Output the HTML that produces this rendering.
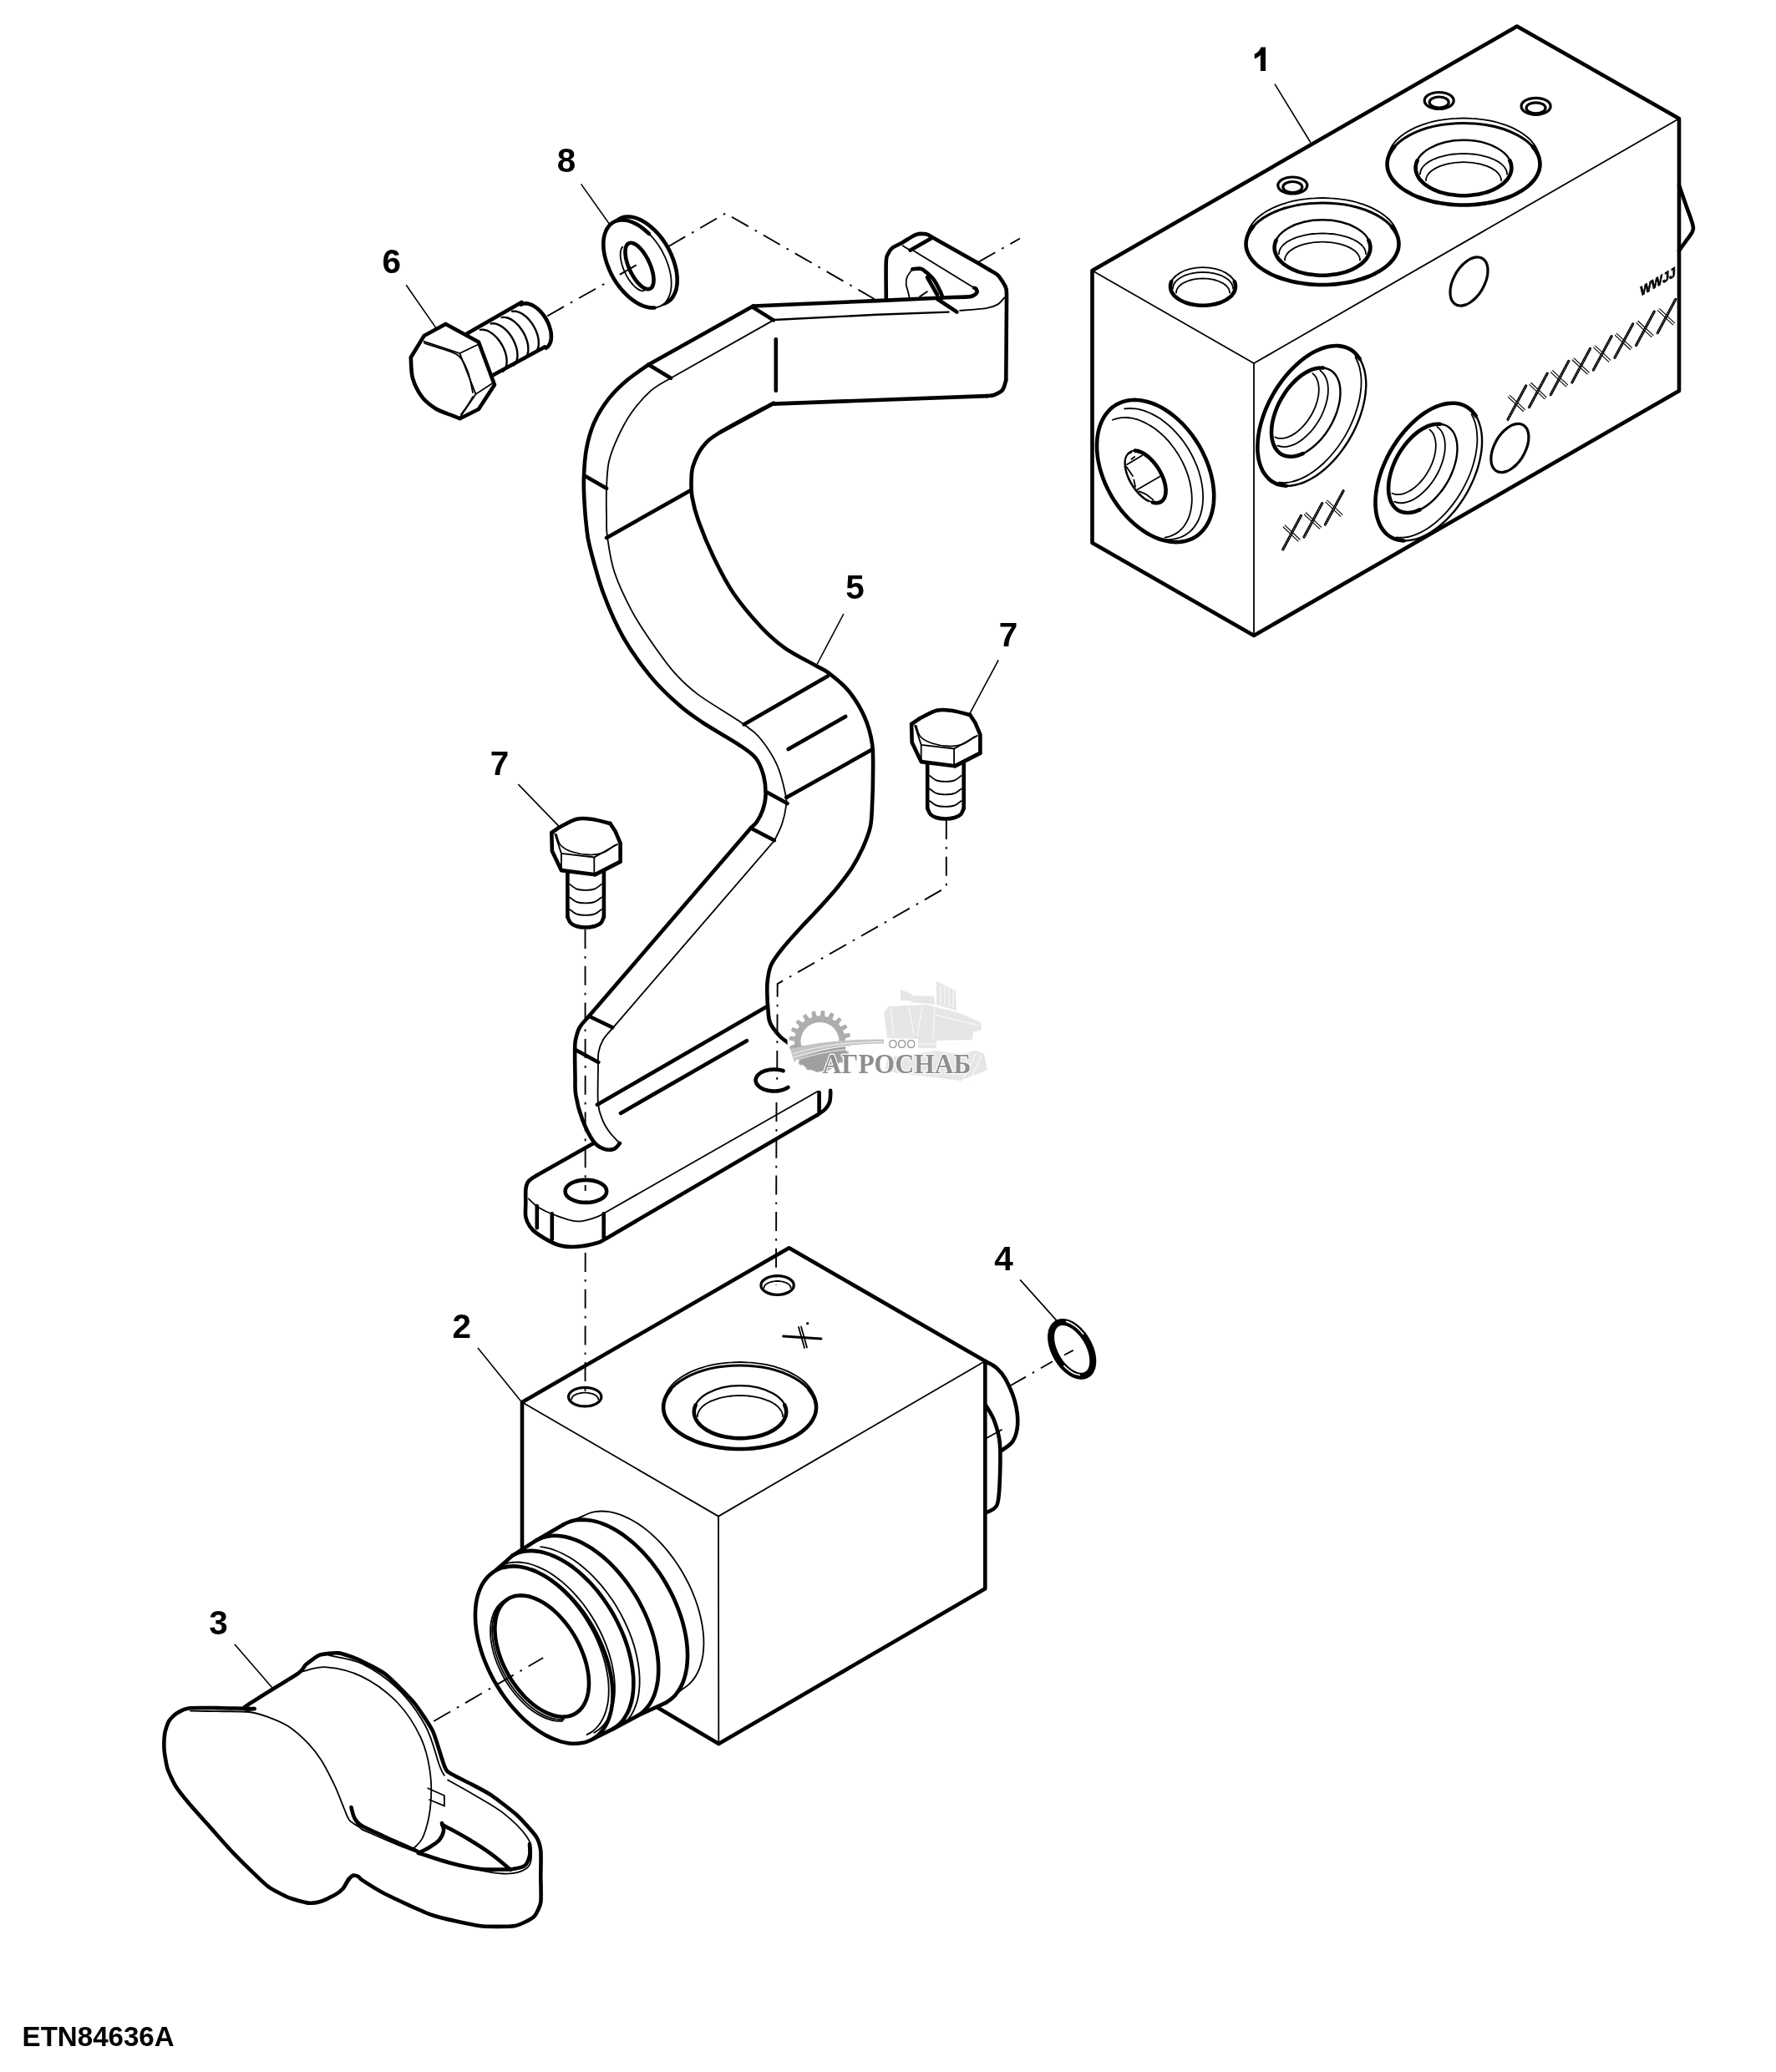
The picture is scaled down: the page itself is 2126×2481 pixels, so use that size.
<!DOCTYPE html>
<html><head><meta charset="utf-8"><title>ETN84636A</title>
<style>
html,body{margin:0;padding:0;background:#fff;}
body{width:2126px;height:2481px;overflow:hidden;}
svg{display:block;filter:grayscale(1);}
.k{fill:none;stroke:#000;stroke-width:4.6;stroke-linecap:round;stroke-linejoin:round;}
.m{fill:none;stroke:#000;stroke-width:3.2;stroke-linecap:round;stroke-linejoin:round;}
.m2{fill:none;stroke:#000;stroke-width:2.4;stroke-linecap:round;stroke-linejoin:round;}
.xs1{fill:none;stroke:#000;stroke-width:4;stroke-linecap:butt;}
.xs2{fill:none;stroke:#fff;stroke-width:1.8;stroke-linecap:butt;}
.xl{fill:none;stroke:#000;stroke-width:3.2;stroke-linecap:round;}
.xld{fill:none;stroke:#fff;stroke-width:0.9;stroke-dasharray:0.9 1.7;}
.t{fill:none;stroke:#000;stroke-width:1.8;stroke-linecap:round;}
.ld{fill:none;stroke:#000;stroke-width:1.6;}
.dd{fill:none;stroke:#000;stroke-width:1.9;stroke-dasharray:23 9 2.7 9;}
.wf{fill:#fff;stroke:none;}
.fillk{fill:#000;stroke:none;}
.or{fill:none;stroke:#000;stroke-width:8;}
.orw{fill:none;stroke:#fff;stroke-width:1.6;}
text{font-family:"Liberation Sans",sans-serif;opacity:0.999;}
.lb{font-weight:bold;font-size:40.5px;fill:#000;}
.lb2{font-weight:bold;font-size:33.5px;fill:#000;}
.xx{font-style:italic;font-size:40px;fill:#fff;stroke:#000;stroke-width:1.1;letter-spacing:-2px;}
.ww{font-weight:bold;font-size:16.5px;fill:#000;stroke:#000;stroke-width:0.8;}
</style></head><body>
<svg width="2126" height="2481" viewBox="0 0 2126 2481" xmlns="http://www.w3.org/2000/svg">
<rect width="2126" height="2481" fill="#fff"/>
<path class="k" d="M1307.5,324 L1816,31.5 L2010,142 L2010,468 L1501,761 L1307.5,650 Z" style="fill:#fff"/>
<path class="t" d="M1307.5,324 L1501,435 L2010,142"/>
<path class="t" d="M1501,435 L1501,761"/>
<path class="k" d="M2010,222 C2011.3,225.8 2015.3,237.3 2018,245 C2020.7,252.7 2024.7,262.7 2026,268 C2027.3,273.3 2027.3,273.5 2026,277 C2024.7,280.5 2020.7,285.2 2018,289 C2015.3,292.8 2011.3,298.2 2010,300"/>
<ellipse class="m" cx="1547.3" cy="222" rx="17.5" ry="10"/>
<ellipse class="m" cx="1547.3" cy="224" rx="11.5" ry="6.5"/>
<ellipse class="m" cx="1722.7" cy="120.5" rx="17.5" ry="10"/>
<ellipse class="m" cx="1722.7" cy="122.5" rx="11.5" ry="6.5"/>
<ellipse class="m" cx="1838.6" cy="127.3" rx="17.5" ry="10"/>
<ellipse class="m" cx="1838.6" cy="129.3" rx="11.5" ry="6.5"/>
<path class="t" d="M1492.5,286 C1492.6,285.1 1492.7,282.6 1493,280.9 C1493.3,279.2 1493.8,277.5 1494.5,275.8 C1495.1,274.1 1496,272.5 1496.9,270.9 C1497.9,269.2 1499,267.6 1500.3,266.1 C1501.6,264.5 1503,263 1504.6,261.5 C1506.2,260 1507.9,258.6 1509.8,257.2 C1511.6,255.8 1513.6,254.5 1515.7,253.2 C1517.9,251.9 1520.1,250.7 1522.4,249.6 C1524.8,248.4 1527.3,247.4 1529.8,246.4 C1532.4,245.4 1535,244.4 1537.8,243.6 C1540.5,242.7 1543.3,241.9 1546.2,241.2 C1549.1,240.5 1552,239.9 1555,239.4 C1558,238.9 1561.1,238.4 1564.2,238.1 C1567.3,237.7 1570.4,237.4 1573.5,237.3 C1576.7,237.1 1579.8,237 1583,237 C1586.2,237 1589.3,237.1 1592.5,237.3 C1595.6,237.4 1598.7,237.7 1601.8,238.1 C1604.9,238.4 1608,238.9 1611,239.4 C1614,239.9 1616.9,240.5 1619.8,241.2 C1622.7,241.9 1625.5,242.7 1628.2,243.6 C1631,244.4 1633.6,245.4 1636.2,246.4 C1638.7,247.4 1641.2,248.4 1643.6,249.6 C1645.9,250.7 1648.1,251.9 1650.3,253.2 C1652.4,254.5 1654.4,255.8 1656.2,257.2 C1658.1,258.6 1659.8,260 1661.4,261.5 C1663,263 1664.4,264.5 1665.7,266.1 C1667,267.6 1668.1,269.2 1669.1,270.9 C1670,272.5 1670.9,274.1 1671.5,275.8 C1672.2,277.5 1672.7,279.2 1673,280.9 C1673.3,282.6 1673.4,285.1 1673.5,286"/>
<ellipse class="m" cx="1583" cy="292" rx="91.5" ry="49"/>
<path class="k" d="M1665.9,271.3 C1666.5,272.1 1668.5,274.5 1669.5,276.1 C1670.6,277.7 1671.5,279.4 1672.2,281.1 C1672.9,282.7 1673.5,284.5 1673.8,286.2 C1674.2,287.9 1674.4,289.6 1674.5,291.3 C1674.5,293 1674.4,294.8 1674.1,296.5 C1673.8,298.2 1673.4,299.9 1672.7,301.6 C1672.1,303.3 1671.3,305 1670.3,306.6 C1669.4,308.3 1668.2,309.9 1667,311.5 C1665.7,313.1 1664.2,314.6 1662.7,316.1 C1661.1,317.6 1659.3,319.1 1657.5,320.5 C1655.6,321.9 1653.6,323.2 1651.4,324.5 C1649.3,325.8 1647,327 1644.7,328.2 C1642.3,329.4 1639.8,330.5 1637.2,331.5 C1634.6,332.5 1631.9,333.5 1629.1,334.3 C1626.3,335.2 1623.5,336 1620.5,336.7 C1617.6,337.4 1614.6,338 1611.5,338.6 C1608.5,339.1 1605.3,339.5 1602.2,339.9 C1599,340.3 1595.8,340.5 1592.6,340.7 C1589.4,340.9 1586.2,341 1583,341 C1579.8,341 1576.6,340.9 1573.4,340.7 C1570.2,340.5 1567,340.3 1563.8,339.9 C1560.7,339.5 1557.5,339.1 1554.5,338.6 C1551.4,338 1548.4,337.4 1545.5,336.7 C1542.5,336 1539.7,335.2 1536.9,334.3 C1534.1,333.5 1531.4,332.5 1528.8,331.5 C1526.2,330.5 1523.7,329.4 1521.3,328.2 C1519,327 1516.7,325.8 1514.6,324.5 C1512.4,323.2 1510.4,321.9 1508.5,320.5 C1506.7,319.1 1504.9,317.6 1503.3,316.1 C1501.8,314.6 1500.3,313.1 1499,311.5 C1497.8,309.9 1496.6,308.3 1495.7,306.6 C1494.7,305 1493.9,303.3 1493.3,301.6 C1492.6,299.9 1492.2,298.2 1491.9,296.5 C1491.6,294.8 1491.5,293 1491.5,291.3 C1491.6,289.6 1491.8,287.9 1492.2,286.2 C1492.5,284.5 1493.1,282.7 1493.8,281.1 C1494.5,279.4 1495.4,277.7 1496.5,276.1 C1497.5,274.5 1499.5,272.1 1500.1,271.3"/>
<ellipse class="m2" cx="1583" cy="296.5" rx="57.4" ry="33.2"/>
<path class="k" d="M1638.4,287.9 C1638.7,288.5 1639.4,290.2 1639.7,291.3 C1640,292.4 1640.2,293.6 1640.3,294.8 C1640.4,295.9 1640.4,297.1 1640.3,298.2 C1640.2,299.4 1640,300.6 1639.7,301.7 C1639.4,302.8 1639,304 1638.4,305.1 C1637.9,306.2 1637.3,307.3 1636.6,308.4 C1635.9,309.5 1635.1,310.5 1634.1,311.6 C1633.2,312.6 1632.2,313.6 1631.1,314.6 C1630.1,315.6 1628.9,316.5 1627.6,317.4 C1626.3,318.3 1625,319.2 1623.6,320 C1622.2,320.8 1620.7,321.6 1619.1,322.3 C1617.6,323 1615.9,323.7 1614.3,324.3 C1612.6,325 1610.8,325.6 1609.1,326.1 C1607.3,326.6 1605.4,327.1 1603.6,327.5 C1601.7,327.9 1599.8,328.3 1597.9,328.6 C1595.9,328.9 1594,329.1 1592,329.3 C1590,329.5 1588,329.6 1586,329.7 C1584,329.7 1582,329.7 1580,329.7 C1578,329.6 1576,329.5 1574,329.3 C1572,329.1 1570.1,328.9 1568.1,328.6 C1566.2,328.3 1564.3,327.9 1562.4,327.5 C1560.6,327.1 1558.7,326.6 1556.9,326.1 C1555.2,325.6 1553.4,325 1551.7,324.3 C1550.1,323.7 1548.4,323 1546.9,322.3 C1545.3,321.6 1543.8,320.8 1542.4,320 C1541,319.2 1539.7,318.3 1538.4,317.4 C1537.1,316.5 1535.9,315.6 1534.9,314.6 C1533.8,313.6 1532.8,312.6 1531.9,311.6 C1530.9,310.5 1530.1,309.5 1529.4,308.4 C1528.7,307.3 1528.1,306.2 1527.6,305.1 C1527,304 1526.6,302.8 1526.3,301.7 C1526,300.6 1525.8,299.4 1525.7,298.2 C1525.6,297.1 1525.6,295.9 1525.7,294.8 C1525.8,293.6 1526,292.4 1526.3,291.3 C1526.6,290.2 1527.3,288.5 1527.6,287.9"/>
<path class="t" d="M1531,304 C1531,303.6 1531.1,302.3 1531.3,301.4 C1531.5,300.6 1531.8,299.7 1532.1,298.9 C1532.5,298.1 1533,297.2 1533.5,296.4 C1534.1,295.6 1534.8,294.8 1535.5,294 C1536.2,293.3 1537.1,292.5 1538,291.8 C1538.9,291 1539.9,290.3 1540.9,289.6 C1542,288.9 1543.1,288.2 1544.4,287.6 C1545.6,287 1546.9,286.4 1548.2,285.8 C1549.6,285.2 1551,284.7 1552.4,284.2 C1553.9,283.7 1555.4,283.2 1557,282.8 C1558.6,282.4 1560.2,282 1561.8,281.6 C1563.5,281.3 1565.2,281 1566.9,280.7 C1568.7,280.4 1570.4,280.2 1572.2,280 C1574,279.9 1575.8,279.7 1577.6,279.6 C1579.4,279.5 1581.2,279.5 1583,279.5 C1584.8,279.5 1586.6,279.5 1588.4,279.6 C1590.2,279.7 1592,279.9 1593.8,280 C1595.6,280.2 1597.3,280.4 1599.1,280.7 C1600.8,281 1602.5,281.3 1604.2,281.6 C1605.8,282 1607.4,282.4 1609,282.8 C1610.6,283.2 1612.1,283.7 1613.6,284.2 C1615,284.7 1616.4,285.2 1617.8,285.8 C1619.1,286.4 1620.4,287 1621.6,287.6 C1622.9,288.2 1624,288.9 1625.1,289.6 C1626.1,290.3 1627.1,291 1628,291.8 C1628.9,292.5 1629.8,293.3 1630.5,294 C1631.2,294.8 1631.9,295.6 1632.5,296.4 C1633,297.2 1633.5,298.1 1633.9,298.9 C1634.2,299.7 1634.5,300.6 1634.7,301.4 C1634.9,302.3 1635,303.6 1635,304"/>
<path class="t" d="M1538,311.5 C1538,311.1 1538.1,310 1538.2,309.2 C1538.4,308.5 1538.7,307.7 1539,307 C1539.3,306.2 1539.7,305.5 1540.2,304.8 C1540.7,304 1541.3,303.3 1541.9,302.6 C1542.5,301.9 1543.2,301.3 1544,300.6 C1544.8,299.9 1545.7,299.3 1546.6,298.7 C1547.5,298.1 1548.5,297.5 1549.6,296.9 C1550.6,296.3 1551.7,295.8 1552.9,295.3 C1554.1,294.8 1555.3,294.3 1556.5,293.9 C1557.8,293.4 1559.1,293 1560.5,292.6 C1561.9,292.2 1563.3,291.9 1564.7,291.6 C1566.1,291.3 1567.6,291 1569.1,290.8 C1570.6,290.5 1572.1,290.3 1573.6,290.2 C1575.2,290 1576.7,289.9 1578.3,289.8 C1579.9,289.7 1581.4,289.7 1583,289.7 C1584.6,289.7 1586.1,289.7 1587.7,289.8 C1589.3,289.9 1590.8,290 1592.4,290.2 C1593.9,290.3 1595.4,290.5 1596.9,290.8 C1598.4,291 1599.9,291.3 1601.3,291.6 C1602.7,291.9 1604.1,292.2 1605.5,292.6 C1606.9,293 1608.2,293.4 1609.5,293.9 C1610.7,294.3 1611.9,294.8 1613.1,295.3 C1614.3,295.8 1615.4,296.3 1616.4,296.9 C1617.5,297.5 1618.5,298.1 1619.4,298.7 C1620.3,299.3 1621.2,299.9 1622,300.6 C1622.8,301.3 1623.5,301.9 1624.1,302.6 C1624.7,303.3 1625.3,304 1625.8,304.8 C1626.3,305.5 1626.7,306.2 1627,307 C1627.3,307.7 1627.6,308.5 1627.8,309.2 C1627.9,310 1628,311.1 1628,311.5"/>
<path class="t" d="M1661.5,190.5 C1661.6,189.6 1661.7,187.1 1662,185.4 C1662.3,183.7 1662.8,182 1663.5,180.3 C1664.1,178.6 1665,177 1665.9,175.4 C1666.9,173.7 1668,172.1 1669.3,170.6 C1670.6,169 1672,167.5 1673.6,166 C1675.2,164.5 1676.9,163.1 1678.8,161.7 C1680.6,160.3 1682.6,159 1684.7,157.7 C1686.9,156.4 1689.1,155.2 1691.4,154.1 C1693.8,152.9 1696.3,151.9 1698.8,150.9 C1701.4,149.9 1704,148.9 1706.8,148.1 C1709.5,147.2 1712.3,146.4 1715.2,145.7 C1718.1,145 1721,144.4 1724,143.9 C1727,143.4 1730.1,142.9 1733.2,142.6 C1736.3,142.2 1739.4,141.9 1742.5,141.8 C1745.7,141.6 1748.8,141.5 1752,141.5 C1755.2,141.5 1758.3,141.6 1761.5,141.8 C1764.6,141.9 1767.7,142.2 1770.8,142.6 C1773.9,142.9 1777,143.4 1780,143.9 C1783,144.4 1785.9,145 1788.8,145.7 C1791.7,146.4 1794.5,147.2 1797.2,148.1 C1800,148.9 1802.6,149.9 1805.2,150.9 C1807.7,151.9 1810.2,152.9 1812.6,154.1 C1814.9,155.2 1817.1,156.4 1819.3,157.7 C1821.4,159 1823.4,160.3 1825.2,161.7 C1827.1,163.1 1828.8,164.5 1830.4,166 C1832,167.5 1833.4,169 1834.7,170.6 C1836,172.1 1837.1,173.7 1838.1,175.4 C1839,177 1839.9,178.6 1840.5,180.3 C1841.2,182 1841.7,183.7 1842,185.4 C1842.3,187.1 1842.4,189.6 1842.5,190.5"/>
<ellipse class="m" cx="1752" cy="196.5" rx="91.5" ry="49"/>
<path class="k" d="M1834.9,175.8 C1835.5,176.6 1837.5,179 1838.5,180.6 C1839.6,182.2 1840.5,183.9 1841.2,185.6 C1841.9,187.2 1842.5,189 1842.8,190.7 C1843.2,192.4 1843.4,194.1 1843.5,195.8 C1843.5,197.5 1843.4,199.3 1843.1,201 C1842.8,202.7 1842.4,204.4 1841.7,206.1 C1841.1,207.8 1840.3,209.5 1839.3,211.1 C1838.4,212.8 1837.2,214.4 1836,216 C1834.7,217.6 1833.2,219.1 1831.7,220.6 C1830.1,222.1 1828.3,223.6 1826.5,225 C1824.6,226.4 1822.6,227.7 1820.4,229 C1818.3,230.3 1816,231.5 1813.7,232.7 C1811.3,233.9 1808.8,235 1806.2,236 C1803.6,237 1800.9,238 1798.1,238.8 C1795.3,239.7 1792.5,240.5 1789.5,241.2 C1786.6,241.9 1783.6,242.5 1780.5,243.1 C1777.5,243.6 1774.3,244 1771.2,244.4 C1768,244.8 1764.8,245 1761.6,245.2 C1758.4,245.4 1755.2,245.5 1752,245.5 C1748.8,245.5 1745.6,245.4 1742.4,245.2 C1739.2,245 1736,244.8 1732.8,244.4 C1729.7,244 1726.5,243.6 1723.5,243.1 C1720.4,242.5 1717.4,241.9 1714.5,241.2 C1711.5,240.5 1708.7,239.7 1705.9,238.8 C1703.1,238 1700.4,237 1697.8,236 C1695.2,235 1692.7,233.9 1690.3,232.7 C1688,231.5 1685.7,230.3 1683.6,229 C1681.4,227.7 1679.4,226.4 1677.5,225 C1675.7,223.6 1673.9,222.1 1672.3,220.6 C1670.8,219.1 1669.3,217.6 1668,216 C1666.8,214.4 1665.6,212.8 1664.7,211.1 C1663.7,209.5 1662.9,207.8 1662.3,206.1 C1661.6,204.4 1661.2,202.7 1660.9,201 C1660.6,199.3 1660.5,197.5 1660.5,195.8 C1660.6,194.1 1660.8,192.4 1661.2,190.7 C1661.5,189 1662.1,187.2 1662.8,185.6 C1663.5,183.9 1664.4,182.2 1665.5,180.6 C1666.5,179 1668.5,176.6 1669.1,175.8"/>
<ellipse class="m2" cx="1752" cy="201" rx="57.4" ry="33.2"/>
<path class="k" d="M1807.4,192.4 C1807.7,193 1808.4,194.7 1808.7,195.8 C1809,196.9 1809.2,198.1 1809.3,199.3 C1809.4,200.4 1809.4,201.6 1809.3,202.7 C1809.2,203.9 1809,205.1 1808.7,206.2 C1808.4,207.3 1808,208.5 1807.4,209.6 C1806.9,210.7 1806.3,211.8 1805.6,212.9 C1804.9,214 1804.1,215 1803.1,216.1 C1802.2,217.1 1801.2,218.1 1800.1,219.1 C1799.1,220.1 1797.9,221 1796.6,221.9 C1795.3,222.8 1794,223.7 1792.6,224.5 C1791.2,225.3 1789.7,226.1 1788.1,226.8 C1786.6,227.5 1784.9,228.2 1783.3,228.8 C1781.6,229.5 1779.8,230.1 1778.1,230.6 C1776.3,231.1 1774.4,231.6 1772.6,232 C1770.7,232.4 1768.8,232.8 1766.9,233.1 C1764.9,233.4 1763,233.6 1761,233.8 C1759,234 1757,234.1 1755,234.2 C1753,234.2 1751,234.2 1749,234.2 C1747,234.1 1745,234 1743,233.8 C1741,233.6 1739.1,233.4 1737.1,233.1 C1735.2,232.8 1733.3,232.4 1731.4,232 C1729.6,231.6 1727.7,231.1 1725.9,230.6 C1724.2,230.1 1722.4,229.5 1720.7,228.8 C1719.1,228.2 1717.4,227.5 1715.9,226.8 C1714.3,226.1 1712.8,225.3 1711.4,224.5 C1710,223.7 1708.7,222.8 1707.4,221.9 C1706.1,221 1704.9,220.1 1703.9,219.1 C1702.8,218.1 1701.8,217.1 1700.9,216.1 C1699.9,215 1699.1,214 1698.4,212.9 C1697.7,211.8 1697.1,210.7 1696.6,209.6 C1696,208.5 1695.6,207.3 1695.3,206.2 C1695,205.1 1694.8,203.9 1694.7,202.7 C1694.6,201.6 1694.6,200.4 1694.7,199.3 C1694.8,198.1 1695,196.9 1695.3,195.8 C1695.6,194.7 1696.3,193 1696.6,192.4"/>
<path class="t" d="M1700,208.5 C1700,208.1 1700.1,206.8 1700.3,205.9 C1700.5,205.1 1700.8,204.2 1701.1,203.4 C1701.5,202.6 1702,201.7 1702.5,200.9 C1703.1,200.1 1703.8,199.3 1704.5,198.5 C1705.2,197.8 1706.1,197 1707,196.2 C1707.9,195.5 1708.9,194.8 1709.9,194.1 C1711,193.4 1712.1,192.7 1713.4,192.1 C1714.6,191.5 1715.9,190.9 1717.2,190.3 C1718.6,189.7 1720,189.2 1721.4,188.7 C1722.9,188.2 1724.4,187.7 1726,187.3 C1727.6,186.9 1729.2,186.5 1730.8,186.1 C1732.5,185.8 1734.2,185.5 1735.9,185.2 C1737.7,184.9 1739.4,184.7 1741.2,184.5 C1743,184.4 1744.8,184.2 1746.6,184.1 C1748.4,184 1750.2,184 1752,184 C1753.8,184 1755.6,184 1757.4,184.1 C1759.2,184.2 1761,184.4 1762.8,184.5 C1764.6,184.7 1766.3,184.9 1768.1,185.2 C1769.8,185.5 1771.5,185.8 1773.2,186.1 C1774.8,186.5 1776.4,186.9 1778,187.3 C1779.6,187.7 1781.1,188.2 1782.6,188.7 C1784,189.2 1785.4,189.7 1786.8,190.3 C1788.1,190.9 1789.4,191.5 1790.6,192.1 C1791.9,192.7 1793,193.4 1794.1,194.1 C1795.1,194.8 1796.1,195.5 1797,196.2 C1797.9,197 1798.8,197.8 1799.5,198.5 C1800.2,199.3 1800.9,200.1 1801.5,200.9 C1802,201.7 1802.5,202.6 1802.9,203.4 C1803.2,204.2 1803.5,205.1 1803.7,205.9 C1803.9,206.8 1804,208.1 1804,208.5"/>
<path class="t" d="M1707,216 C1707,215.6 1707.1,214.5 1707.2,213.7 C1707.4,213 1707.7,212.2 1708,211.5 C1708.3,210.7 1708.7,210 1709.2,209.3 C1709.7,208.5 1710.3,207.8 1710.9,207.1 C1711.5,206.4 1712.2,205.8 1713,205.1 C1713.8,204.4 1714.7,203.8 1715.6,203.2 C1716.5,202.6 1717.5,202 1718.6,201.4 C1719.6,200.8 1720.7,200.3 1721.9,199.8 C1723.1,199.3 1724.3,198.8 1725.5,198.4 C1726.8,197.9 1728.1,197.5 1729.5,197.1 C1730.9,196.7 1732.3,196.4 1733.7,196.1 C1735.1,195.8 1736.6,195.5 1738.1,195.3 C1739.6,195 1741.1,194.8 1742.6,194.7 C1744.2,194.5 1745.7,194.4 1747.3,194.3 C1748.9,194.2 1750.4,194.2 1752,194.2 C1753.6,194.2 1755.1,194.2 1756.7,194.3 C1758.3,194.4 1759.8,194.5 1761.4,194.7 C1762.9,194.8 1764.4,195 1765.9,195.3 C1767.4,195.5 1768.9,195.8 1770.3,196.1 C1771.7,196.4 1773.1,196.7 1774.5,197.1 C1775.9,197.5 1777.2,197.9 1778.5,198.4 C1779.7,198.8 1780.9,199.3 1782.1,199.8 C1783.3,200.3 1784.4,200.8 1785.4,201.4 C1786.5,202 1787.5,202.6 1788.4,203.2 C1789.3,203.8 1790.2,204.4 1791,205.1 C1791.8,205.8 1792.5,206.4 1793.1,207.1 C1793.7,207.8 1794.3,208.5 1794.8,209.3 C1795.3,210 1795.7,210.7 1796,211.5 C1796.3,212.2 1796.6,213 1796.8,213.7 C1796.9,214.5 1797,215.6 1797,216"/>
<ellipse class="t" cx="1440" cy="343" rx="39" ry="22.8"/>
<path class="k" d="M1477.7,337.1 C1477.8,337.5 1478.3,338.6 1478.5,339.4 C1478.7,340.2 1478.9,341 1478.9,341.8 C1479,342.6 1479,343.4 1478.9,344.2 C1478.9,345 1478.7,345.8 1478.5,346.6 C1478.3,347.4 1478,348.1 1477.7,348.9 C1477.3,349.7 1476.9,350.4 1476.4,351.2 C1475.9,351.9 1475.4,352.6 1474.7,353.4 C1474.1,354.1 1473.4,354.8 1472.7,355.4 C1472,356.1 1471.2,356.7 1470.3,357.3 C1469.5,358 1468.5,358.6 1467.6,359.1 C1466.6,359.7 1465.6,360.2 1464.5,360.7 C1463.5,361.2 1462.4,361.7 1461.2,362.1 C1460.1,362.6 1458.9,363 1457.7,363.3 C1456.5,363.7 1455.2,364 1454,364.3 C1452.7,364.6 1451.4,364.8 1450.1,365 C1448.8,365.2 1447.4,365.4 1446.1,365.5 C1444.8,365.6 1443.4,365.7 1442,365.8 C1440.7,365.8 1439.3,365.8 1438,365.8 C1436.6,365.7 1435.2,365.6 1433.9,365.5 C1432.6,365.4 1431.2,365.2 1429.9,365 C1428.6,364.8 1427.3,364.6 1426,364.3 C1424.8,364 1423.5,363.7 1422.3,363.3 C1421.1,363 1419.9,362.6 1418.8,362.1 C1417.6,361.7 1416.5,361.2 1415.5,360.7 C1414.4,360.2 1413.4,359.7 1412.4,359.1 C1411.5,358.6 1410.5,358 1409.7,357.3 C1408.8,356.7 1408,356.1 1407.3,355.4 C1406.6,354.8 1405.9,354.1 1405.3,353.4 C1404.6,352.6 1404.1,351.9 1403.6,351.2 C1403.1,350.4 1402.7,349.7 1402.3,348.9 C1402,348.1 1401.7,347.4 1401.5,346.6 C1401.3,345.8 1401.1,345 1401.1,344.2 C1401,343.4 1401,342.6 1401.1,341.8 C1401.1,341 1401.3,340.2 1401.5,339.4 C1401.7,338.6 1402.2,337.5 1402.3,337.1"/>
<path class="t" d="M1404,345.5 C1404,345.2 1404.1,344.1 1404.2,343.5 C1404.3,342.8 1404.5,342.1 1404.8,341.4 C1405,340.8 1405.4,340.1 1405.8,339.5 C1406.1,338.8 1406.6,338.2 1407.1,337.6 C1407.6,336.9 1408.2,336.3 1408.8,335.8 C1409.5,335.2 1410.1,334.6 1410.9,334 C1411.6,333.5 1412.4,333 1413.2,332.5 C1414.1,331.9 1415,331.5 1415.9,331 C1416.8,330.6 1417.8,330.1 1418.8,329.7 C1419.9,329.3 1420.9,329 1422,328.6 C1423.1,328.3 1424.2,328 1425.4,327.7 C1426.5,327.4 1427.7,327.2 1428.9,327 C1430.1,326.7 1431.3,326.6 1432.5,326.4 C1433.7,326.3 1435,326.2 1436.2,326.1 C1437.5,326 1438.7,326 1440,326 C1441.3,326 1442.5,326 1443.8,326.1 C1445,326.2 1446.3,326.3 1447.5,326.4 C1448.7,326.6 1449.9,326.7 1451.1,327 C1452.3,327.2 1453.5,327.4 1454.6,327.7 C1455.8,328 1456.9,328.3 1458,328.6 C1459.1,329 1460.1,329.3 1461.2,329.7 C1462.2,330.1 1463.2,330.6 1464.1,331 C1465,331.5 1465.9,331.9 1466.8,332.5 C1467.6,333 1468.4,333.5 1469.1,334 C1469.9,334.6 1470.5,335.2 1471.2,335.8 C1471.8,336.3 1472.4,336.9 1472.9,337.6 C1473.4,338.2 1473.9,338.8 1474.2,339.5 C1474.6,340.1 1475,340.8 1475.2,341.4 C1475.5,342.1 1475.7,342.8 1475.8,343.5 C1475.9,344.1 1476,345.2 1476,345.5"/>
<path class="t" d="M1408,350.5 C1408,350.2 1408.1,349.3 1408.2,348.7 C1408.3,348.1 1408.5,347.5 1408.7,347 C1408.9,346.4 1409.2,345.8 1409.6,345.2 C1409.9,344.7 1410.3,344.1 1410.8,343.6 C1411.2,343 1411.7,342.5 1412.3,342 C1412.8,341.5 1413.5,341 1414.1,340.5 C1414.8,340 1415.5,339.6 1416.2,339.1 C1417,338.7 1417.8,338.3 1418.6,337.9 C1419.4,337.5 1420.3,337.1 1421.2,336.7 C1422.1,336.4 1423,336.1 1424,335.8 C1425,335.5 1426,335.2 1427,335 C1428,334.7 1429.1,334.5 1430.1,334.3 C1431.2,334.1 1432.3,334 1433.3,333.9 C1434.4,333.7 1435.5,333.7 1436.7,333.6 C1437.8,333.5 1438.9,333.5 1440,333.5 C1441.1,333.5 1442.2,333.5 1443.3,333.6 C1444.5,333.7 1445.6,333.7 1446.7,333.9 C1447.7,334 1448.8,334.1 1449.9,334.3 C1450.9,334.5 1452,334.7 1453,335 C1454,335.2 1455,335.5 1456,335.8 C1457,336.1 1457.9,336.4 1458.8,336.7 C1459.7,337.1 1460.6,337.5 1461.4,337.9 C1462.2,338.3 1463,338.7 1463.8,339.1 C1464.5,339.6 1465.2,340 1465.9,340.5 C1466.5,341 1467.2,341.5 1467.7,342 C1468.3,342.5 1468.8,343 1469.2,343.6 C1469.7,344.1 1470.1,344.7 1470.4,345.2 C1470.8,345.8 1471.1,346.4 1471.3,347 C1471.5,347.5 1471.7,348.1 1471.8,348.7 C1471.9,349.3 1472,350.2 1472,350.5"/>
<path class="k" d="M1430,643.4 C1428.1,644.5 1426.2,645.4 1424.3,646.2 C1422.3,647 1420.2,647.6 1418.1,648.1 C1416,648.5 1413.8,648.9 1411.6,649 C1409.3,649.2 1407,649.2 1404.7,649 C1402.4,648.9 1400,648.6 1397.6,648.1 C1395.2,647.7 1392.8,647.1 1390.4,646.3 C1388,645.6 1385.5,644.6 1383.1,643.6 C1380.6,642.5 1378.2,641.3 1375.7,640 C1373.3,638.6 1370.9,637.2 1368.5,635.5 C1366.1,633.9 1363.7,632.2 1361.4,630.3 C1359.1,628.5 1356.8,626.5 1354.6,624.4 C1352.3,622.3 1350.1,620.1 1348,617.8 C1345.9,615.5 1343.9,613.1 1341.9,610.6 C1339.9,608.1 1338,605.5 1336.2,602.9 C1334.4,600.2 1332.6,597.5 1331,594.8 C1329.4,592 1327.8,589.1 1326.4,586.3 C1325,583.4 1323.6,580.5 1322.4,577.6 C1321.2,574.6 1320.1,571.7 1319.1,568.7 C1318.1,565.7 1317.2,562.8 1316.4,559.8 C1315.7,556.8 1315.1,553.9 1314.5,550.9 C1314,548 1313.7,545.1 1313.4,542.2 C1313.1,539.3 1313,536.5 1313,533.7 C1313,531 1313.2,528.2 1313.4,525.6 C1313.7,522.9 1314.1,520.3 1314.6,517.8 C1315.1,515.3 1315.7,512.9 1316.5,510.6 C1317.2,508.3 1318.1,506.1 1319.1,504 C1320.1,501.9 1321.2,499.9 1322.4,498 C1323.7,496.1 1325,494.4 1326.4,492.7 C1327.9,491.1 1329.4,489.6 1331,488.2 C1332.7,486.9 1334.4,485.7 1336.2,484.6 C1338.1,483.5 1340,482.6 1341.9,481.8 C1343.9,481 1346,480.4 1348.1,479.9 C1350.2,479.5 1352.4,479.1 1354.6,479 C1356.9,478.8 1359.2,478.8 1361.5,479 C1363.8,479.1 1366.2,479.4 1368.6,479.9 C1371,480.3 1373.4,480.9 1375.8,481.7 C1378.2,482.4 1380.7,483.4 1383.1,484.4 C1385.6,485.5 1388,486.7 1390.5,488 C1392.9,489.4 1395.3,490.8 1397.7,492.5 C1400.1,494.1 1402.5,495.8 1404.8,497.7 C1407.1,499.5 1409.4,501.5 1411.6,503.6 C1413.9,505.7 1416.1,507.9 1418.2,510.2 C1420.3,512.5 1422.3,514.9 1424.3,517.4 C1426.3,519.9 1428.2,522.5 1430,525.1 C1431.8,527.8 1433.6,530.5 1435.2,533.2 C1436.8,536 1438.4,538.9 1439.8,541.7 C1441.2,544.6 1442.6,547.5 1443.8,550.4 C1445,553.4 1446.1,556.3 1447.1,559.3 C1448.1,562.3 1449,565.2 1449.8,568.2 C1450.5,571.2 1451.1,574.1 1451.7,577.1 C1452.2,580 1452.5,582.9 1452.8,585.8 C1453.1,588.7 1453.2,591.5 1453.2,594.3 C1453.2,597 1453,599.8 1452.8,602.4 C1452.5,605.1 1452.1,607.7 1451.6,610.2 C1451.1,612.7 1450.5,615.1 1449.7,617.4 C1449,619.7 1448.1,621.9 1447.1,624 C1446.1,626.1 1445,628.1 1443.8,630 C1442.5,631.9 1441.2,633.6 1439.8,635.3 C1438.3,636.9 1436.8,638.4 1435.2,639.8 C1433.5,641.1 1431.8,642.3 1430,643.4 Z" style="fill:#fff"/>
<path class="t" d="M1346.2,489.5 C1347.2,489.4 1350.3,489 1352.4,489 C1354.6,489 1356.8,489.1 1359,489.4 C1361.2,489.7 1363.4,490.1 1365.6,490.7 C1367.9,491.3 1370.2,492 1372.4,492.9 C1374.7,493.7 1377,494.7 1379.3,495.9 C1381.5,497 1383.8,498.3 1386.1,499.6 C1388.3,501 1390.5,502.6 1392.7,504.2 C1394.9,505.8 1397.1,507.6 1399.2,509.4 C1401.3,511.3 1403.4,513.3 1405.4,515.3 C1407.4,517.4 1409.4,519.6 1411.3,521.8 C1413.2,524.1 1415,526.4 1416.8,528.8 C1418.5,531.2 1420.2,533.7 1421.8,536.3 C1423.4,538.8 1424.9,541.4 1426.3,544 C1427.7,546.7 1429,549.4 1430.2,552.1 C1431.4,554.8 1432.6,557.5 1433.6,560.3 C1434.6,563 1435.5,565.8 1436.2,568.6 C1437,571.3 1437.7,574.1 1438.2,576.9 C1438.8,579.6 1439.2,582.3 1439.5,585 C1439.8,587.7 1440,590.4 1440.1,593 C1440.2,595.6 1440.1,598.2 1439.9,600.7 C1439.8,603.2 1439.5,605.7 1439.1,608 C1438.7,610.4 1438.1,612.7 1437.5,614.9 C1436.9,617.1 1436.1,619.2 1435.2,621.3 C1434.4,623.3 1433.4,625.2 1432.3,627 C1431.2,628.8 1430,630.5 1428.7,632.1 C1427.4,633.6 1426,635.1 1424.6,636.4 C1423.1,637.7 1421.5,638.9 1419.8,640 C1418.2,641.1 1416.4,642 1414.6,642.8 C1412.8,643.6 1410.9,644.2 1409,644.7 C1407,645.2 1405,645.6 1403,645.8 C1400.9,646 1398.8,646.1 1396.6,646 C1394.5,645.9 1392.3,645.7 1390.1,645.3 C1387.8,644.9 1384.4,644 1383.3,643.7"/>
<path class="t" d="M1331.8,502.8 C1332.7,502.5 1335.3,501.5 1337.1,501.1 C1338.9,500.6 1340.8,500.3 1342.7,500.1 C1344.6,500 1346.6,499.9 1348.6,500 C1350.6,500.1 1352.7,500.4 1354.7,500.7 C1356.8,501.1 1358.9,501.6 1361,502.2 C1363.1,502.9 1365.2,503.7 1367.3,504.6 C1369.4,505.5 1371.5,506.5 1373.6,507.7 C1375.7,508.8 1377.8,510.1 1379.9,511.5 C1382,512.9 1384,514.4 1386,516 C1388,517.6 1390,519.3 1391.9,521.2 C1393.9,523 1395.7,524.9 1397.6,526.9 C1399.4,528.9 1401.1,531 1402.8,533.2 C1404.5,535.3 1406.2,537.6 1407.7,539.9 C1409.3,542.2 1410.8,544.5 1412.1,546.9 C1413.5,549.3 1414.8,551.8 1416.1,554.3 C1417.3,556.8 1418.4,559.3 1419.4,561.8 C1420.4,564.4 1421.4,566.9 1422.2,569.5 C1423,572.1 1423.7,574.6 1424.3,577.2 C1424.9,579.8 1425.4,582.3 1425.8,584.8 C1426.2,587.4 1426.5,589.9 1426.6,592.3 C1426.8,594.8 1426.8,597.2 1426.8,599.6 C1426.7,602 1426.5,604.3 1426.2,606.6 C1425.9,608.8 1425.5,611 1425,613.1 C1424.5,615.2 1423.9,617.2 1423.2,619.2 C1422.4,621.1 1421.6,623 1420.7,624.7 C1419.7,626.5 1418.7,628.1 1417.6,629.7 C1416.4,631.2 1415.2,632.6 1413.9,633.9 C1412.6,635.3 1411.2,636.5 1409.7,637.5 C1408.2,638.6 1406.6,639.5 1405,640.3 C1403.4,641.2 1401.6,641.8 1399.9,642.4 C1398.1,642.9 1395.3,643.4 1394.4,643.6"/>
<path class="k" d="M1358.8,539.6 C1359.2,539.6 1360.3,539.7 1361.1,539.9 C1361.9,540 1362.7,540.2 1363.5,540.5 C1364.4,540.8 1365.2,541.1 1366.1,541.5 C1366.9,541.9 1367.8,542.3 1368.6,542.8 C1369.5,543.3 1370.4,543.9 1371.2,544.5 C1372.1,545.1 1373,545.7 1373.8,546.4 C1374.7,547.1 1375.6,547.9 1376.4,548.6 C1377.2,549.4 1378.1,550.3 1378.9,551.1 C1379.7,552 1380.5,552.9 1381.3,553.8 C1382.1,554.8 1382.9,555.7 1383.6,556.7 C1384.4,557.7 1385.1,558.7 1385.8,559.8 C1386.5,560.8 1387.2,561.9 1387.8,563 C1388.4,564.1 1389,565.2 1389.6,566.3 C1390.2,567.4 1390.7,568.5 1391.2,569.6 C1391.7,570.7 1392.2,571.8 1392.6,572.9 C1393,574.1 1393.4,575.2 1393.7,576.3 C1394,577.4 1394.3,578.5 1394.6,579.5 C1394.8,580.6 1395,581.7 1395.2,582.7 C1395.3,583.7 1395.4,584.7 1395.5,585.7 C1395.6,586.7 1395.6,587.7 1395.5,588.6 C1395.5,589.5 1395.4,590.4 1395.3,591.2 C1395.2,592.1 1395,592.9 1394.8,593.7 C1394.6,594.4 1394.3,595.2 1394,595.8 C1393.7,596.5 1393.4,597.1 1393,597.7 C1392.6,598.3 1392.2,598.8 1391.7,599.3 C1391.2,599.8 1390.7,600.2 1390.2,600.5 C1389.6,600.9 1389.1,601.2 1388.4,601.5 C1387.8,601.7 1387.2,601.9 1386.5,602 C1385.8,602.1 1385.1,602.2 1384.4,602.2 C1383.7,602.2 1382.9,602.2 1382.1,602.1 C1381.4,602 1380.2,601.6 1379.8,601.6"/>
<path class="t" d="M1381.7,602 C1381.3,601.9 1380.2,601.7 1379.4,601.4 C1378.6,601.2 1377.7,600.9 1376.9,600.5 C1376.1,600.2 1375.2,599.8 1374.4,599.3 C1373.6,598.9 1372.7,598.4 1371.9,597.8 C1371,597.2 1370.2,596.6 1369.3,596 C1368.5,595.3 1367.6,594.6 1366.8,593.9 C1366,593.1 1365.1,592.3 1364.3,591.5 C1363.5,590.7 1362.7,589.8 1361.9,589 C1361.1,588.1 1360.4,587.1 1359.6,586.2 C1358.9,585.2 1358.1,584.2 1357.4,583.2 C1356.7,582.2 1356.1,581.2 1355.4,580.2 C1354.8,579.1 1354.1,578.1 1353.6,577 C1353,575.9 1352.4,574.8 1351.9,573.7 C1351.4,572.6 1350.9,571.6 1350.5,570.5 C1350,569.4 1349.6,568.3 1349.2,567.2 C1348.9,566.1 1348.5,565 1348.3,564 C1348,562.9 1347.7,561.8 1347.5,560.8 C1347.3,559.8 1347.2,558.8 1347.1,557.8 C1346.9,556.8 1346.9,555.8 1346.9,554.9 C1346.8,553.9 1346.9,553 1346.9,552.1 C1347,551.3 1347.1,550.4 1347.2,549.6 C1347.4,548.8 1347.6,548.1 1347.8,547.3 C1348.1,546.6 1348.4,545.9 1348.7,545.3 C1349,544.7 1349.4,544.1 1349.8,543.6 C1350.2,543 1350.6,542.5 1351.1,542.1 C1351.6,541.7 1352.1,541.3 1352.7,541 C1353.2,540.7 1353.8,540.4 1354.4,540.2 C1355,540 1355.7,539.8 1356.4,539.7 C1357,539.6 1357.7,539.6 1358.5,539.6 C1359.2,539.6 1360.3,539.8 1360.7,539.8"/>
<path class="t" d="M1374.6,600.3 C1374.2,600.1 1373,599.5 1372.2,599 C1371.3,598.5 1370.5,597.9 1369.7,597.3 C1368.9,596.7 1368,596.1 1367.2,595.4 C1366.4,594.7 1365.6,594 1364.8,593.2 C1364,592.4 1363.2,591.6 1362.4,590.8 C1361.6,589.9 1360.9,589 1360.1,588.1 C1359.4,587.2 1358.6,586.3 1357.9,585.3 C1357.2,584.4 1356.5,583.4 1355.9,582.4 C1355.2,581.4 1354.6,580.3 1354,579.3 C1353.4,578.3 1352.8,577.2 1352.2,576.1 C1351.7,575.1 1351.2,574 1350.7,573 C1350.2,571.9 1349.8,570.8 1349.4,569.7 C1349,568.7 1348.6,567.6 1348.3,566.6 C1348,565.5 1347.7,564.5 1347.4,563.4 C1347.2,562.4 1347,561.4 1346.8,560.4 C1346.7,559.4 1346.5,558.5 1346.5,557.5 C1346.4,556.6 1346.4,555.7 1346.4,554.8 C1346.4,553.9 1346.4,553 1346.5,552.2 C1346.6,551.4 1346.8,550.6 1346.9,549.9 C1347.1,549.2 1347.4,548.4 1347.6,547.8 C1347.9,547.1 1348.2,546.5 1348.5,546 C1348.9,545.4 1349.3,544.9 1349.7,544.4 C1350.1,544 1350.6,543.5 1351.1,543.2 C1351.6,542.8 1352.1,542.5 1352.6,542.3 C1353.2,542 1354.1,541.8 1354.4,541.7"/>
<path class="t" d="M1349,556.2 L1367.4,545.2"/>
<path class="t" d="M1361,586.5 L1389.4,570"/>
<path class="t" d="M1348.5,559 L1356,570"/>
<path class="t" d="M1357.3,574.6 L1359.1,582.8"/>
<path class="t" d="M1354.5,549.8 L1358.2,547"/>
<path class="t" d="M1363.7,588.3 C1365.1,588.9 1369.2,590.3 1372,592 C1374.8,593.7 1378.8,597.3 1380.2,598.4"/>
<path class="t" d="M1622.5,427.8 C1623.1,429.1 1625.1,432.8 1626.1,435.6 C1627.1,438.4 1627.9,441.5 1628.4,444.7 C1629,447.9 1629.4,451.3 1629.5,454.8 C1629.6,458.3 1629.5,461.9 1629.2,465.7 C1628.8,469.4 1628.3,473.3 1627.5,477.2 C1626.7,481.1 1625.7,485.1 1624.5,489.1 C1623.3,493.1 1621.9,497.2 1620.3,501.2 C1618.7,505.1 1616.9,509.2 1615,513.1 C1613,517 1610.9,520.8 1608.6,524.6 C1606.3,528.3 1603.8,532 1601.3,535.5 C1598.7,538.9 1596,542.3 1593.2,545.5 C1590.4,548.7 1587.5,551.7 1584.6,554.5 C1581.6,557.3 1578.6,559.9 1575.5,562.2 C1572.5,564.6 1569.3,566.7 1566.3,568.6 C1563.2,570.4 1560,572 1557,573.4 C1553.9,574.7 1550.8,575.8 1547.8,576.5 C1544.8,577.3 1541.9,577.8 1539,578 C1536.2,578.2 1532.2,577.8 1530.8,577.7"/>
<path class="m2" d="M1635.3,460.4 C1635.3,463.9 1635,467.5 1634.6,471.2 C1634.2,474.9 1633.6,478.7 1632.7,482.5 C1631.9,486.3 1630.9,490.3 1629.6,494.1 C1628.4,498 1627,502 1625.4,505.8 C1623.8,509.7 1622,513.6 1620.1,517.4 C1618.1,521.2 1616,524.9 1613.8,528.5 C1611.5,532.2 1609.1,535.7 1606.6,539.1 C1604.1,542.5 1601.5,545.8 1598.8,548.9 C1596.1,552 1593.2,554.9 1590.4,557.6 C1587.5,560.4 1584.5,562.9 1581.6,565.2 C1578.6,567.6 1575.6,569.7 1572.6,571.5 C1569.6,573.4 1566.5,575 1563.5,576.4 C1560.5,577.8 1557.5,578.9 1554.6,579.7 C1551.7,580.6 1548.8,581.2 1546,581.5 C1543.2,581.8 1540.4,581.8 1537.8,581.6 C1535.2,581.4 1532.7,580.9 1530.3,580.1 C1527.9,579.3 1525.7,578.3 1523.6,577 C1521.5,575.7 1519.5,574.1 1517.8,572.3 C1516,570.5 1514.4,568.5 1513,566.2 C1511.5,564 1510.3,561.5 1509.3,558.8 C1508.2,556.1 1507.4,553.2 1506.8,550.2 C1506.1,547.1 1505.7,543.9 1505.5,540.5 C1505.3,537.2 1505.3,533.7 1505.5,530.1 C1505.7,526.5 1506.1,522.8 1506.8,519 C1507.4,515.2 1508.2,511.4 1509.3,507.5 C1510.3,503.6 1511.5,499.7 1513,495.8 C1514.4,491.9 1516,488 1517.8,484.2 C1519.5,480.3 1521.5,476.5 1523.6,472.8 C1525.7,469.1 1527.9,465.4 1530.3,461.9 C1532.7,458.4 1535.2,454.9 1537.8,451.7 C1540.4,448.5 1543.2,445.3 1546,442.4 C1548.8,439.5 1551.7,436.7 1554.6,434.2 C1557.5,431.7 1560.5,429.3 1563.5,427.2 C1566.5,425.1 1569.6,423.3 1572.6,421.6 C1575.6,420 1578.6,418.6 1581.6,417.5 C1584.5,416.4 1587.5,415.6 1590.4,415 C1593.2,414.4 1596.1,414.1 1598.8,414.1 C1601.5,414 1604.1,414.2 1606.6,414.8 C1609.1,415.3 1611.5,416 1613.8,417.1 C1616,418.1 1618.1,419.4 1620.1,421 C1622,422.5 1623.8,424.3 1625.4,426.4 C1627,428.4 1628.4,430.7 1629.6,433.1 C1630.9,435.6 1631.9,438.3 1632.7,441.2 C1633.6,444 1634.2,447.1 1634.6,450.3 C1635,453.5 1635.3,456.9 1635.3,460.4 Z"/>
<path class="k" d="M1539.8,581.7 C1538.5,581.5 1534.4,581.2 1531.9,580.6 C1529.4,579.9 1527,578.9 1524.8,577.7 C1522.6,576.5 1520.5,574.9 1518.6,573.2 C1516.8,571.4 1515,569.4 1513.5,567.1 C1512,564.9 1510.7,562.3 1509.6,559.6 C1508.5,556.9 1507.6,554 1506.9,550.9 C1506.2,547.8 1505.8,544.5 1505.5,541 C1505.3,537.6 1505.3,534 1505.5,530.3 C1505.7,526.6 1506.1,522.8 1506.8,518.9 C1507.4,515 1508.3,511 1509.4,507 C1510.5,503.1 1511.8,499 1513.2,495 C1514.7,491 1516.4,487 1518.3,483 C1520.1,479.1 1522.2,475.2 1524.4,471.4 C1526.6,467.6 1528.9,463.8 1531.4,460.3 C1533.9,456.7 1536.5,453.2 1539.3,449.9 C1542,446.6 1544.9,443.5 1547.8,440.6 C1550.7,437.7 1553.7,434.9 1556.7,432.4 C1559.7,429.9 1562.9,427.6 1565.9,425.6 C1569,423.6 1572.2,421.8 1575.3,420.3 C1578.4,418.7 1581.5,417.5 1584.5,416.5 C1587.5,415.6 1590.5,414.9 1593.4,414.5 C1596.3,414.1 1599.2,414 1601.9,414.1 C1604.6,414.3 1607.2,414.8 1609.7,415.5 C1612.1,416.3 1614.5,417.3 1616.7,418.6 C1618.8,419.9 1620.9,421.5 1622.7,423.3 C1624.5,425.2 1626.8,428.5 1627.6,429.6"/>
<path class="m2" d="M1604.5,469.8 C1604.5,472.6 1604.3,475.5 1603.9,478.4 C1603.5,481.4 1602.9,484.5 1602,487.5 C1601.2,490.6 1600.2,493.7 1599,496.8 C1597.8,499.9 1596.4,503 1594.9,506 C1593.3,509 1591.6,511.9 1589.8,514.8 C1588,517.6 1586,520.4 1583.9,522.9 C1581.8,525.5 1579.6,528 1577.4,530.2 C1575.2,532.4 1572.8,534.5 1570.5,536.3 C1568.1,538.2 1565.7,539.8 1563.3,541.2 C1560.9,542.6 1558.5,543.7 1556.1,544.6 C1553.8,545.5 1551.4,546.1 1549.2,546.5 C1547,546.8 1544.8,546.9 1542.7,546.7 C1540.6,546.5 1538.6,546.1 1536.8,545.4 C1535,544.6 1533.3,543.7 1531.7,542.4 C1530.2,541.2 1528.8,539.7 1527.6,538 C1526.4,536.3 1525.4,534.4 1524.6,532.2 C1523.7,530.1 1523.1,527.8 1522.7,525.3 C1522.3,522.8 1522.1,520.2 1522.1,517.4 C1522.1,514.6 1522.3,511.7 1522.7,508.8 C1523.1,505.8 1523.7,502.7 1524.6,499.7 C1525.4,496.6 1526.4,493.5 1527.6,490.4 C1528.8,487.3 1530.2,484.2 1531.7,481.2 C1533.3,478.2 1535,475.3 1536.8,472.4 C1538.6,469.6 1540.6,466.8 1542.7,464.3 C1544.8,461.7 1547,459.2 1549.2,457 C1551.4,454.8 1553.8,452.7 1556.1,450.9 C1558.5,449 1560.9,447.4 1563.3,446 C1565.7,444.6 1568.1,443.5 1570.5,442.6 C1572.8,441.7 1575.2,441.1 1577.4,440.7 C1579.6,440.4 1581.8,440.3 1583.9,440.5 C1586,440.7 1588,441.1 1589.8,441.8 C1591.6,442.6 1593.3,443.5 1594.9,444.8 C1596.4,446 1597.8,447.5 1599,449.2 C1600.2,450.9 1601.2,452.8 1602,455 C1602.9,457.1 1603.5,459.4 1603.9,461.9 C1604.3,464.4 1604.5,467 1604.5,469.8 Z"/>
<path class="k" d="M1559.7,543.1 C1558.5,543.5 1554.8,545.2 1552.5,545.8 C1550.1,546.4 1547.8,546.8 1545.6,546.8 C1543.3,546.9 1541.2,546.6 1539.2,546.1 C1537.2,545.6 1535.3,544.8 1533.6,543.8 C1531.9,542.7 1530.4,541.4 1529,539.8 C1527.7,538.3 1526.5,536.4 1525.5,534.4 C1524.5,532.4 1523.7,530.1 1523.2,527.7 C1522.6,525.3 1522.3,522.6 1522.1,519.9 C1522,517.1 1522.1,514.2 1522.4,511.2 C1522.7,508.2 1523.2,505.1 1524,502 C1524.7,498.9 1525.7,495.7 1526.8,492.5 C1528,489.3 1529.3,486.1 1530.8,483 C1532.3,480 1534,476.9 1535.9,473.9 C1537.7,471 1539.7,468.1 1541.8,465.4 C1543.8,462.8 1546.1,460.2 1548.4,457.9 C1550.6,455.5 1553,453.3 1555.4,451.4 C1557.8,449.5 1560.3,447.8 1562.8,446.3 C1565.2,444.9 1567.7,443.7 1570.1,442.7 C1572.5,441.8 1574.9,441.1 1577.2,440.8 C1579.5,440.4 1582.8,440.5 1583.9,440.5"/>
<path class="t" d="M1580.5,443.8 C1581.1,444.5 1583.3,446.1 1584.4,447.6 C1585.5,449 1586.5,450.7 1587.3,452.6 C1588.1,454.4 1588.7,456.5 1589.2,458.7 C1589.6,460.9 1589.8,463.3 1589.9,465.7 C1589.9,468.2 1589.8,470.8 1589.5,473.5 C1589.1,476.1 1588.6,478.9 1587.9,481.6 C1587.2,484.4 1586.3,487.2 1585.2,490 C1584.2,492.8 1582.9,495.6 1581.6,498.3 C1580.2,501 1578.7,503.7 1577,506.3 C1575.4,508.8 1573.6,511.3 1571.7,513.7 C1569.9,516 1567.9,518.2 1565.8,520.2 C1563.8,522.3 1561.7,524.1 1559.6,525.8 C1557.5,527.5 1555.3,528.9 1553.1,530.2 C1551,531.4 1548.8,532.4 1546.7,533.2 C1544.5,534 1542.4,534.5 1540.4,534.8 C1538.4,535.1 1536.4,535.1 1534.6,534.9 C1532.7,534.7 1530.2,533.8 1529.3,533.5"/>
<path class="t" d="M1571.4,447.2 C1572,447.8 1573.7,449.3 1574.6,450.6 C1575.5,451.9 1576.3,453.4 1576.9,455.1 C1577.6,456.7 1578,458.5 1578.3,460.5 C1578.7,462.4 1578.8,464.4 1578.8,466.6 C1578.8,468.7 1578.6,471 1578.3,473.2 C1577.9,475.5 1577.4,477.9 1576.8,480.3 C1576.1,482.6 1575.3,485 1574.4,487.4 C1573.4,489.8 1572.3,492.2 1571.1,494.5 C1569.9,496.8 1568.6,499 1567.1,501.2 C1565.7,503.4 1564.1,505.5 1562.5,507.4 C1560.9,509.4 1559.2,511.2 1557.5,512.9 C1555.7,514.6 1553.9,516.2 1552.1,517.5 C1550.3,518.9 1548.4,520.1 1546.6,521.1 C1544.7,522.1 1542.9,523 1541.1,523.6 C1539.3,524.2 1537.5,524.6 1535.8,524.8 C1534.1,525 1532.4,525 1530.8,524.8 C1529.3,524.5 1527.1,523.7 1526.4,523.5"/>
<path class="t" d="M1761.5,496.2 C1762.1,497.4 1764.1,501.1 1765,503.8 C1766,506.6 1766.8,509.6 1767.3,512.7 C1767.9,515.9 1768.2,519.2 1768.3,522.7 C1768.5,526.1 1768.4,529.7 1768,533.4 C1767.7,537.1 1767.2,540.9 1766.4,544.7 C1765.6,548.6 1764.7,552.5 1763.5,556.4 C1762.3,560.4 1760.9,564.3 1759.4,568.2 C1757.8,572.2 1756,576.1 1754.1,579.9 C1752.2,583.8 1750.1,587.6 1747.8,591.2 C1745.6,594.9 1743.2,598.5 1740.7,601.9 C1738.1,605.4 1735.5,608.7 1732.7,611.8 C1730,614.9 1727.1,617.9 1724.2,620.6 C1721.3,623.4 1718.3,625.9 1715.3,628.2 C1712.3,630.6 1709.3,632.7 1706.2,634.5 C1703.2,636.3 1700.1,637.9 1697.1,639.2 C1694.1,640.5 1691.1,641.5 1688.1,642.3 C1685.2,643.1 1682.3,643.5 1679.5,643.7 C1676.7,643.9 1672.8,643.5 1671.4,643.5"/>
<path class="m2" d="M1774.1,528.2 C1774.1,531.7 1773.9,535.4 1773.5,539.1 C1773,542.8 1772.4,546.7 1771.5,550.5 C1770.7,554.4 1769.6,558.3 1768.4,562.2 C1767.1,566.1 1765.6,570.1 1764,573.9 C1762.4,577.8 1760.5,581.7 1758.5,585.5 C1756.6,589.3 1754.4,593.1 1752.1,596.7 C1749.8,600.3 1747.4,603.8 1744.8,607.2 C1742.3,610.5 1739.6,613.8 1736.8,616.8 C1734.1,619.9 1731.2,622.8 1728.3,625.4 C1725.4,628.1 1722.4,630.6 1719.4,632.8 C1716.4,635 1713.3,637.1 1710.3,638.8 C1707.3,640.5 1704.2,642.1 1701.2,643.3 C1698.2,644.5 1695.2,645.5 1692.3,646.2 C1689.4,646.9 1686.5,647.3 1683.8,647.4 C1681,647.6 1678.3,647.4 1675.8,647 C1673.2,646.6 1670.8,645.9 1668.5,644.9 C1666.2,644 1664,642.7 1662.1,641.2 C1660.1,639.7 1658.2,637.9 1656.6,635.9 C1655,633.9 1653.5,631.7 1652.2,629.2 C1651,626.8 1649.9,624.1 1649.1,621.2 C1648.2,618.4 1647.6,615.3 1647.1,612.1 C1646.7,608.9 1646.5,605.4 1646.5,602 C1646.5,598.5 1646.7,594.8 1647.1,591.1 C1647.6,587.4 1648.2,583.5 1649.1,579.7 C1649.9,575.8 1651,571.9 1652.2,568 C1653.5,564.1 1655,560.1 1656.6,556.3 C1658.2,552.4 1660.1,548.5 1662.1,544.7 C1664,540.9 1666.2,537.1 1668.5,533.5 C1670.8,529.9 1673.2,526.4 1675.8,523 C1678.3,519.7 1681,516.4 1683.8,513.4 C1686.5,510.3 1689.4,507.4 1692.3,504.8 C1695.2,502.1 1698.2,499.6 1701.2,497.4 C1704.2,495.2 1707.3,493.1 1710.3,491.4 C1713.3,489.7 1716.4,488.1 1719.4,486.9 C1722.4,485.7 1725.4,484.7 1728.3,484 C1731.2,483.3 1734.1,482.9 1736.8,482.8 C1739.6,482.6 1742.3,482.8 1744.8,483.2 C1747.4,483.6 1749.8,484.3 1752.1,485.3 C1754.4,486.2 1756.6,487.5 1758.5,489 C1760.5,490.5 1762.4,492.3 1764,494.3 C1765.6,496.3 1767.1,498.5 1768.4,501 C1769.6,503.4 1770.7,506.1 1771.5,509 C1772.4,511.8 1773,514.9 1773.5,518.1 C1773.9,521.3 1774.1,524.8 1774.1,528.2 Z"/>
<path class="k" d="M1680.3,647.5 C1679,647.3 1675,647 1672.6,646.3 C1670.1,645.7 1667.8,644.7 1665.6,643.5 C1663.4,642.3 1661.4,640.8 1659.5,639.1 C1657.7,637.3 1656,635.3 1654.5,633.1 C1653,630.9 1651.7,628.4 1650.7,625.8 C1649.6,623.1 1648.7,620.2 1648,617.2 C1647.3,614.1 1646.9,610.8 1646.7,607.5 C1646.4,604.1 1646.4,600.6 1646.6,596.9 C1646.8,593.3 1647.2,589.5 1647.9,585.7 C1648.5,581.9 1649.4,578 1650.4,574.1 C1651.5,570.2 1652.8,566.2 1654.2,562.3 C1655.7,558.3 1657.3,554.4 1659.2,550.5 C1661,546.6 1663,542.8 1665.2,539 C1667.3,535.3 1669.7,531.6 1672.1,528.1 C1674.5,524.6 1677.1,521.2 1679.8,518 C1682.5,514.7 1685.3,511.6 1688.1,508.8 C1691,505.9 1694,503.2 1696.9,500.7 C1699.9,498.3 1703,496 1706,494 C1709.1,492 1712.1,490.3 1715.2,488.8 C1718.2,487.3 1721.3,486.1 1724.2,485.1 C1727.2,484.2 1730.2,483.5 1733,483.1 C1735.9,482.7 1738.7,482.6 1741.3,482.8 C1744,483 1746.6,483.4 1749,484.1 C1751.4,484.9 1753.7,485.9 1755.9,487.2 C1758,488.5 1760,490 1761.8,491.8 C1763.6,493.6 1765.8,496.9 1766.7,498"/>
<path class="m2" d="M1744.5,537 C1744.5,539.8 1744.3,542.7 1743.9,545.6 C1743.5,548.6 1742.9,551.7 1742,554.7 C1741.2,557.8 1740.2,560.9 1739,564 C1737.8,567.1 1736.4,570.2 1734.9,573.2 C1733.3,576.2 1731.6,579.1 1729.8,582 C1728,584.8 1726,587.6 1723.9,590.1 C1721.8,592.7 1719.6,595.2 1717.4,597.4 C1715.2,599.6 1712.8,601.7 1710.5,603.5 C1708.1,605.4 1705.7,607 1703.3,608.4 C1700.9,609.8 1698.5,610.9 1696.1,611.8 C1693.8,612.7 1691.4,613.3 1689.2,613.7 C1687,614 1684.8,614.1 1682.7,613.9 C1680.6,613.7 1678.6,613.3 1676.8,612.6 C1675,611.8 1673.3,610.9 1671.7,609.6 C1670.2,608.4 1668.8,606.9 1667.6,605.2 C1666.4,603.5 1665.4,601.6 1664.6,599.4 C1663.7,597.3 1663.1,595 1662.7,592.5 C1662.3,590 1662.1,587.4 1662.1,584.6 C1662.1,581.8 1662.3,578.9 1662.7,576 C1663.1,573 1663.7,569.9 1664.6,566.9 C1665.4,563.8 1666.4,560.7 1667.6,557.6 C1668.8,554.5 1670.2,551.4 1671.7,548.4 C1673.3,545.4 1675,542.5 1676.8,539.6 C1678.6,536.8 1680.6,534 1682.7,531.5 C1684.8,528.9 1687,526.4 1689.2,524.2 C1691.4,522 1693.8,519.9 1696.1,518.1 C1698.5,516.2 1700.9,514.6 1703.3,513.2 C1705.7,511.8 1708.1,510.7 1710.5,509.8 C1712.8,508.9 1715.2,508.3 1717.4,507.9 C1719.6,507.6 1721.8,507.5 1723.9,507.7 C1726,507.9 1728,508.3 1729.8,509 C1731.6,509.8 1733.3,510.7 1734.9,512 C1736.4,513.2 1737.8,514.7 1739,516.4 C1740.2,518.1 1741.2,520 1742,522.2 C1742.9,524.3 1743.5,526.6 1743.9,529.1 C1744.3,531.6 1744.5,534.2 1744.5,537 Z"/>
<path class="k" d="M1699.7,610.3 C1698.5,610.7 1694.8,612.4 1692.5,613 C1690.1,613.6 1687.8,614 1685.6,614 C1683.3,614.1 1681.2,613.8 1679.2,613.3 C1677.2,612.8 1675.3,612 1673.6,611 C1671.9,609.9 1670.4,608.6 1669,607 C1667.7,605.5 1666.5,603.6 1665.5,601.6 C1664.5,599.6 1663.7,597.3 1663.2,594.9 C1662.6,592.5 1662.3,589.8 1662.1,587.1 C1662,584.3 1662.1,581.4 1662.4,578.4 C1662.7,575.4 1663.2,572.3 1664,569.2 C1664.7,566.1 1665.7,562.9 1666.8,559.7 C1668,556.5 1669.3,553.3 1670.8,550.2 C1672.3,547.2 1674,544.1 1675.9,541.1 C1677.7,538.2 1679.7,535.3 1681.8,532.6 C1683.8,530 1686.1,527.4 1688.4,525.1 C1690.6,522.7 1693,520.5 1695.4,518.6 C1697.8,516.7 1700.3,515 1702.8,513.5 C1705.2,512.1 1707.7,510.9 1710.1,509.9 C1712.5,509 1714.9,508.3 1717.2,508 C1719.5,507.6 1722.8,507.7 1723.9,507.7"/>
<path class="t" d="M1720.5,511 C1721.1,511.7 1723.3,513.3 1724.4,514.8 C1725.5,516.2 1726.5,517.9 1727.3,519.8 C1728.1,521.6 1728.7,523.7 1729.2,525.9 C1729.6,528.1 1729.8,530.5 1729.9,532.9 C1729.9,535.4 1729.8,538 1729.5,540.7 C1729.1,543.3 1728.6,546.1 1727.9,548.8 C1727.2,551.6 1726.3,554.4 1725.2,557.2 C1724.2,560 1722.9,562.8 1721.6,565.5 C1720.2,568.2 1718.7,570.9 1717,573.5 C1715.4,576 1713.6,578.5 1711.7,580.9 C1709.9,583.2 1707.9,585.4 1705.8,587.4 C1703.8,589.5 1701.7,591.3 1699.6,593 C1697.5,594.7 1695.3,596.1 1693.1,597.4 C1691,598.6 1688.8,599.6 1686.7,600.4 C1684.5,601.2 1682.4,601.7 1680.4,602 C1678.4,602.3 1676.4,602.3 1674.6,602.1 C1672.7,601.9 1670.2,601 1669.3,600.7"/>
<path class="t" d="M1711.4,514.4 C1712,515 1713.7,516.5 1714.6,517.8 C1715.5,519.1 1716.3,520.6 1716.9,522.3 C1717.6,523.9 1718,525.7 1718.3,527.7 C1718.7,529.6 1718.8,531.6 1718.8,533.8 C1718.8,535.9 1718.6,538.2 1718.3,540.4 C1717.9,542.7 1717.4,545.1 1716.8,547.5 C1716.1,549.8 1715.3,552.2 1714.4,554.6 C1713.4,557 1712.3,559.4 1711.1,561.7 C1709.9,564 1708.6,566.2 1707.1,568.4 C1705.7,570.6 1704.1,572.7 1702.5,574.6 C1700.9,576.6 1699.2,578.4 1697.5,580.1 C1695.7,581.8 1693.9,583.4 1692.1,584.7 C1690.3,586.1 1688.4,587.3 1686.6,588.3 C1684.7,589.3 1682.9,590.2 1681.1,590.8 C1679.3,591.4 1677.5,591.8 1675.8,592 C1674.1,592.2 1672.4,592.2 1670.8,592 C1669.3,591.7 1667.1,590.9 1666.4,590.7"/>
<path class="m" d="M1829.9,523.5 C1829.9,525 1829.8,526.6 1829.6,528.2 C1829.3,529.8 1829,531.5 1828.6,533.2 C1828.1,534.8 1827.6,536.6 1826.9,538.2 C1826.2,539.9 1825.5,541.6 1824.6,543.3 C1823.8,544.9 1822.9,546.5 1821.9,548.1 C1820.9,549.6 1819.8,551.1 1818.7,552.5 C1817.5,553.9 1816.3,555.3 1815.1,556.5 C1813.9,557.7 1812.6,558.8 1811.3,559.8 C1810,560.8 1808.7,561.7 1807.4,562.5 C1806.1,563.3 1804.8,563.9 1803.5,564.4 C1802.2,564.8 1800.9,565.2 1799.7,565.4 C1798.5,565.6 1797.3,565.6 1796.1,565.5 C1795,565.4 1793.9,565.2 1792.9,564.8 C1791.9,564.4 1791,563.8 1790.2,563.2 C1789.3,562.5 1788.6,561.7 1787.9,560.8 C1787.2,559.8 1786.7,558.8 1786.2,557.6 C1785.8,556.5 1785.5,555.2 1785.2,553.8 C1785,552.5 1784.9,551 1784.9,549.5 C1784.9,548 1785,546.4 1785.2,544.8 C1785.5,543.2 1785.8,541.5 1786.2,539.8 C1786.7,538.2 1787.2,536.4 1787.9,534.8 C1788.6,533.1 1789.3,531.4 1790.2,529.7 C1791,528.1 1791.9,526.5 1792.9,524.9 C1793.9,523.4 1795,521.9 1796.1,520.5 C1797.3,519.1 1798.5,517.7 1799.7,516.5 C1800.9,515.3 1802.2,514.2 1803.5,513.2 C1804.8,512.2 1806.1,511.3 1807.4,510.5 C1808.7,509.7 1810,509.1 1811.3,508.6 C1812.6,508.2 1813.9,507.8 1815.1,507.6 C1816.3,507.4 1817.5,507.4 1818.7,507.5 C1819.8,507.6 1820.9,507.8 1821.9,508.2 C1822.9,508.6 1823.8,509.2 1824.6,509.8 C1825.5,510.5 1826.2,511.3 1826.9,512.2 C1827.6,513.2 1828.1,514.2 1828.6,515.4 C1829,516.5 1829.3,517.8 1829.6,519.2 C1829.8,520.5 1829.9,522 1829.9,523.5 Z"/>
<path class="m" d="M1781,324 C1781,325.5 1780.9,327.1 1780.7,328.7 C1780.4,330.3 1780.1,332 1779.7,333.7 C1779.2,335.3 1778.7,337.1 1778,338.7 C1777.3,340.4 1776.6,342.1 1775.7,343.8 C1774.9,345.4 1774,347 1773,348.6 C1772,350.1 1770.9,351.6 1769.8,353 C1768.6,354.4 1767.4,355.8 1766.2,357 C1765,358.2 1763.7,359.3 1762.4,360.3 C1761.1,361.3 1759.8,362.2 1758.5,363 C1757.2,363.8 1755.9,364.4 1754.6,364.9 C1753.3,365.3 1752,365.7 1750.8,365.9 C1749.6,366.1 1748.4,366.1 1747.2,366 C1746.1,365.9 1745,365.7 1744,365.3 C1743,364.9 1742.1,364.3 1741.3,363.7 C1740.4,363 1739.7,362.2 1739,361.3 C1738.3,360.3 1737.8,359.3 1737.3,358.1 C1736.9,357 1736.6,355.7 1736.3,354.3 C1736.1,353 1736,351.5 1736,350 C1736,348.5 1736.1,346.9 1736.3,345.3 C1736.6,343.7 1736.9,342 1737.3,340.3 C1737.8,338.7 1738.3,336.9 1739,335.3 C1739.7,333.6 1740.4,331.9 1741.3,330.2 C1742.1,328.6 1743,327 1744,325.4 C1745,323.9 1746.1,322.4 1747.2,321 C1748.4,319.6 1749.6,318.2 1750.8,317 C1752,315.8 1753.3,314.7 1754.6,313.7 C1755.9,312.7 1757.2,311.8 1758.5,311 C1759.8,310.2 1761.1,309.6 1762.4,309.1 C1763.7,308.7 1765,308.3 1766.2,308.1 C1767.4,307.9 1768.6,307.9 1769.8,308 C1770.9,308.1 1772,308.3 1773,308.7 C1774,309.1 1774.9,309.7 1775.7,310.3 C1776.6,311 1777.3,311.8 1778,312.7 C1778.7,313.7 1779.2,314.7 1779.7,315.9 C1780.1,317 1780.4,318.3 1780.7,319.7 C1780.9,321 1781,322.5 1781,324 Z"/>
<path class="xs1" d="M1536.8,629.7 L1555.4,647.3"/>
<path class="xs2" d="M1536.8,629.7 L1555.4,647.3"/>
<path class="xl" d="M1535.7,657.9 L1557.4,617.5"/>
<path class="xld" d="M1535.7,657.9 L1557.4,617.5"/>
<path class="xs1" d="M1562.1,614.8 L1580.8,632.4"/>
<path class="xs2" d="M1562.1,614.8 L1580.8,632.4"/>
<path class="xl" d="M1561,643 L1582.8,602.6"/>
<path class="xld" d="M1561,643 L1582.8,602.6"/>
<path class="xs1" d="M1587.5,599.9 L1606.1,617.5"/>
<path class="xs2" d="M1587.5,599.9 L1606.1,617.5"/>
<path class="xl" d="M1586.4,628.1 L1608.1,587.7"/>
<path class="xld" d="M1586.4,628.1 L1608.1,587.7"/>
<path class="xs1" d="M1806.1,474.1 L1824.7,491.7"/>
<path class="xs2" d="M1806.1,474.1 L1824.7,491.7"/>
<path class="xl" d="M1805,502.3 L1826.7,461.9"/>
<path class="xld" d="M1805,502.3 L1826.7,461.9"/>
<path class="xs1" d="M1831.7,459.3 L1850.3,476.9"/>
<path class="xs2" d="M1831.7,459.3 L1850.3,476.9"/>
<path class="xl" d="M1830.6,487.5 L1852.3,447.1"/>
<path class="xld" d="M1830.6,487.5 L1852.3,447.1"/>
<path class="xs1" d="M1857.3,444.5 L1875.9,462.1"/>
<path class="xs2" d="M1857.3,444.5 L1875.9,462.1"/>
<path class="xl" d="M1856.2,472.7 L1877.9,432.3"/>
<path class="xld" d="M1856.2,472.7 L1877.9,432.3"/>
<path class="xs1" d="M1882.9,429.7 L1901.5,447.3"/>
<path class="xs2" d="M1882.9,429.7 L1901.5,447.3"/>
<path class="xl" d="M1881.8,457.9 L1903.5,417.5"/>
<path class="xld" d="M1881.8,457.9 L1903.5,417.5"/>
<path class="xs1" d="M1908.5,414.9 L1927.1,432.5"/>
<path class="xs2" d="M1908.5,414.9 L1927.1,432.5"/>
<path class="xl" d="M1907.4,443.1 L1929.1,402.7"/>
<path class="xld" d="M1907.4,443.1 L1929.1,402.7"/>
<path class="xs1" d="M1934.1,400.1 L1952.7,417.7"/>
<path class="xs2" d="M1934.1,400.1 L1952.7,417.7"/>
<path class="xl" d="M1933,428.3 L1954.7,387.9"/>
<path class="xld" d="M1933,428.3 L1954.7,387.9"/>
<path class="xs1" d="M1959.7,385.3 L1978.3,402.9"/>
<path class="xs2" d="M1959.7,385.3 L1978.3,402.9"/>
<path class="xl" d="M1958.6,413.5 L1980.3,373.1"/>
<path class="xld" d="M1958.6,413.5 L1980.3,373.1"/>
<path class="xs1" d="M1985.3,370.5 L2003.9,388.1"/>
<path class="xs2" d="M1985.3,370.5 L2003.9,388.1"/>
<path class="xl" d="M1984.2,398.7 L2005.9,358.3"/>
<path class="xld" d="M1984.2,398.7 L2005.9,358.3"/>
<text class="ww" transform="matrix(0.866,-0.5,0,1,1963.5,355)" textLength="49" lengthAdjust="spacingAndGlyphs">WWJJ</text>
<path class="k" d="M777,436.2 L901.6,366.5"/>
<path class="k" d="M901.6,366.5 L1050,360.1 L1140,356 L1156,355.6"/>
<path class="k" d="M1156,355.6 C1157.3,355.4 1161.8,355.4 1164,354.5 C1166.2,353.6 1168.8,351.4 1169.5,350 C1170.2,348.6 1169,346.9 1168.5,346 C1168,345.1 1166.6,345 1166.2,344.8"/>
<path class="m2" d="M926.4,383 L1050,376.8 L1135.6,373.6"/>
<path class="t" d="M1149,371.8 C1154.3,371.4 1173.1,370.3 1180.6,369.1 C1188.1,367.9 1190.5,366.7 1194.1,364.6 C1197.7,362.5 1200.9,357.9 1202.3,356.5"/>
<path class="k" d="M1060.8,357.4 C1060.8,350 1060.3,322.2 1060.8,313.2 C1061.2,304.2 1062.3,306 1063.5,303.3 C1064.7,300.6 1065.3,299.1 1068,297 C1070.7,294.9 1074.9,293.4 1079.7,290.7 C1084.5,288 1092,282.5 1096.8,280.8 C1101.6,279.1 1105.6,279.9 1108.6,280.4 C1111.6,280.8 1113.9,283 1114.9,283.5"/>
<path class="k" d="M1114.9,283.5 L1170.7,315 L1185,323.5"/>
<path class="k" d="M1185,323.5 C1186.5,324.4 1191.5,326.8 1194,329 C1196.5,331.2 1198.2,334.2 1200,337 C1201.8,339.8 1203.7,342.2 1204.5,346 C1205.3,349.8 1204.9,357.7 1205,360"/>
<path class="k" d="M1205,360 L1204.3,455"/>
<path class="k" d="M1204.3,455 C1203.6,457 1202.4,464 1200,467 C1197.6,470 1193,471.8 1190,473 C1187,474.2 1183.2,473.9 1181.8,474.1"/>
<path class="k" d="M1181.8,474.1 L925.2,483.6 L861.3,518.1"/>
<path class="k" d="M1089.6,299.7 L1114.9,285.3"/>
<path class="t" d="M1080.6,294.3 L1089.6,299.7"/>
<path class="t" d="M1094.1,300.6 L1166.2,344.8"/>
<path class="k" d="M1092.3,322.3 C1094,322.2 1099.6,321.2 1102.3,321.8 C1105,322.4 1105.9,323.6 1108.6,325.9 C1111.3,328.2 1115.7,331.9 1118.5,335.8 C1121.3,339.7 1124,345.9 1125.7,349.3 C1127.4,352.8 1128,355.3 1128.4,356.5"/>
<path class="k" d="M1110,332 L1122,353"/>
<path class="t" d="M1092.3,322.3 C1091.2,323.8 1087.3,328.3 1086,331.3 C1084.7,334.3 1084.5,337.3 1084.7,340.3 C1084.9,343.3 1086.3,346.6 1087,349.3 C1087.7,352 1088.4,355.3 1088.7,356.5"/>
<path class="k" d="M1122,358 L1145.5,373.6"/>
<path class="k" d="M900.7,367.6 L925.9,383.4"/>
<path class="k" d="M928.8,406.2 L928.8,467.7"/>
<path class="k" d="M777,436.2 C772.6,439.4 758.9,448.3 750.9,455.1 C742.9,461.9 735.5,468.8 728.9,477.2 C722.3,485.6 716,495.5 711.5,505.5 C707,515.5 704.2,526 702.1,537 C700,548 699.3,561.3 698.9,571.8 C698.5,582.3 699,590.3 699.5,600 C700,609.7 700.9,620.9 702,630 C703.1,639.1 702.6,641.1 706,654.6 C709.4,668.1 715.9,693.2 722.6,711.3 C729.3,729.4 736.8,746.8 746.2,763.4 C755.7,780 768.3,797.2 779.3,810.6 C790.3,824 802.1,834.7 812.4,843.8 C822.6,852.9 829,857.1 840.8,865 C852.6,872.9 872.8,883.9 883.4,891 C894,898.1 899.5,901.3 904.6,907.6 C909.7,913.9 912.1,921.4 914.1,928.9 C916.1,936.4 916.7,945.6 916.5,952.5 C916.3,959.4 914.8,964.8 913,970 C911.2,975.2 908.4,980.4 906,984 C903.6,987.6 899.9,990.2 898.7,991.5"/>
<path class="k" d="M898.7,991.5 L705,1216.8"/>
<path class="k" d="M705,1216.8 C703.2,1219 696.7,1225.3 694,1230 C691.3,1234.7 690,1240.5 689,1245 C688,1249.5 688.3,1249.8 688.2,1257.3 C688.1,1264.8 688.3,1281 688.5,1290 C688.7,1299 687.9,1303.1 689.3,1311.4 C690.7,1319.7 693.3,1330.4 696.8,1339.6 C700.3,1348.8 706.1,1360.7 710.4,1366.7 C714.7,1372.7 718.6,1374.2 722.7,1375.7 C726.8,1377.2 731.9,1376.8 735.1,1375.7 C738.3,1374.6 740.8,1370 741.9,1368.9"/>
<path class="t" d="M925.9,383.4 L803,452.7"/>
<path class="t" d="M803,452.7 C799,455.2 787.2,460.7 779.3,467.7 C771.4,474.7 762.3,485.3 755.7,494.5 C749.1,503.7 744.4,513.2 739.9,522.9 C735.4,532.6 731.2,542.3 728.9,552.8 C726.6,563.3 726.5,574.8 726,586 C725.5,597.2 725.9,610.5 726.1,620 C726.3,629.5 725.4,631.9 727,642.8 C728.6,653.7 730.8,670.7 735.6,685.3 C740.4,699.9 748.4,716.5 755.7,730.3 C763,744.1 770.6,755.4 779.3,768 C788,780.6 798.2,795.2 807.7,805.9 C817.2,816.5 822.2,821.6 836,831.9 C849.8,842.1 877.9,858.3 890.5,867.4 C903.1,876.5 905,878 911.7,886.3 C918.4,894.6 925.9,906.4 930.6,917 C935.3,927.6 938.4,942.2 940.1,950.2 C941.8,958.2 941.7,958.9 941,965 C940.3,971.1 938.3,980.1 936,987 C933.7,993.9 928.5,1003.2 927,1006.5"/>
<path class="t" d="M927,1006.5 L733.2,1231.4"/>
<path class="t" d="M733.2,1231.4 C731.3,1233.7 724.8,1240.2 722,1245 C719.2,1249.8 717.5,1254.2 716.5,1260 C715.5,1265.8 716.1,1269.7 716,1280 C715.9,1290.3 715.1,1311.3 716,1321.6 C716.9,1331.9 719.3,1336.2 721.6,1341.9 C723.9,1347.6 726.6,1351.5 730,1356 C733.4,1360.5 739.9,1366.8 741.9,1368.9"/>
<path class="k" d="M925.9,482.7 C915.1,488.6 875.5,509.3 861.3,518.1 C847.1,526.9 846,528.9 840.8,535.5 C835.5,542.1 832,551 829.8,557.6 C827.6,564.2 827.8,568.8 827.6,575 C827.4,581.2 827.1,586.9 828.5,595 C829.9,603.1 831.7,611.5 836.1,623.8 C840.5,636.1 847.9,654.2 855,668.8 C862.1,683.4 869.1,697.5 878.6,711.3 C888.1,725.1 901.5,740.6 911.7,751.5 C922,762.4 929.5,768.9 940.1,776.4 C950.8,783.9 966.9,791.6 975.6,796.5 C984.3,801.4 985.4,800.8 992.1,805.9 C998.8,811 1008.7,818.5 1015.8,827.2 C1022.9,835.9 1030,847.4 1034.7,858 C1039.4,868.6 1042.4,879 1044.1,891 C1045.8,903 1045,918.5 1045,930 C1045,941.5 1044.7,950.1 1044.2,960 C1043.7,969.9 1043.8,980.3 1042,989.3 C1040.2,998.3 1036.9,1005.9 1033.2,1014.2 C1029.5,1022.5 1025.1,1031 1020,1039 C1014.9,1047 1008.8,1054.7 1002.5,1062.5 C996.2,1070.3 989.3,1077.9 982,1085.9 C974.7,1094 966.2,1102.5 958.6,1110.8 C951,1119.1 942.5,1128.4 936.6,1135.7 C930.7,1143 926.3,1148.6 923.4,1154.7 C920.5,1160.8 919.9,1166.7 919,1172.3 C918.1,1177.9 918.2,1182.1 918.3,1188.4 C918.4,1194.7 918.9,1203.9 919.5,1210 C920.1,1216.1 919.7,1219.9 922,1225 C924.3,1230.1 929.5,1236.4 933.3,1240.5 C937.1,1244.6 942.7,1248 944.6,1249.5"/>
<path class="k" d="M777,437 L803,452.7"/>
<path class="k" d="M701.3,570.6 L726.1,584.8"/>
<path class="k" d="M726.1,643.9 L826.6,587.2"/>
<path class="k" d="M890.5,867.4 L991,809.5"/>
<path class="k" d="M943.7,897 L1012.2,858"/>
<path class="k" d="M941.3,954.9 L1043,898.1"/>
<path class="k" d="M918.8,949 L942.5,962"/>
<path class="k" d="M901,992.7 L926.9,1006.2"/>
<path class="k" d="M705,1216.8 L733.2,1230.3"/>
<path class="k" d="M689.3,1257.3 L716.3,1271.9"/>
<path class="k" d="M714.9,1322.7 L917.6,1205.6"/>
<path class="k" d="M743,1332.9 L893.9,1246.2"/>
<path class="t" d="M723.9,1452.3 L978.4,1307"/>
<path class="k" d="M726.1,1482.7 L978.4,1335.1"/>
<path class="k" d="M978.4,1335.1 C980,1333.9 985.6,1330.5 988,1328 C990.4,1325.5 992,1322.7 993,1320 C994,1317.3 993.9,1314.3 994.1,1312 C994.3,1309.7 994.1,1306.9 994.1,1305.9"/>
<path class="k" d="M710.4,1368.9 L642.8,1407.2"/>
<path class="k" d="M642.8,1407.2 C641.2,1408.3 635.2,1411.4 633,1414 C630.8,1416.6 630.1,1418.7 629.5,1423 C628.9,1427.3 629.3,1434.4 629.3,1440 C629.3,1445.6 628.5,1452.1 629.3,1456.8 C630.1,1461.5 631.8,1464.6 634,1468 C636.2,1471.4 637.2,1473.2 642.8,1477 C648.4,1480.8 659.7,1487.9 667.6,1490.5 C675.5,1493.1 682.2,1493.2 690.1,1492.8 C698,1492.4 708.9,1490 714.9,1488.3 C720.9,1486.6 724.2,1483.6 726.1,1482.7"/>
<path class="t" d="M632.7,1435.4 C634.8,1437.2 639.9,1442.8 645,1446 C650.1,1449.2 655.6,1451.8 663.1,1454.5 C670.6,1457.2 681.9,1461.8 690.1,1462.4 C698.4,1463 707,1459.6 712.6,1457.9 C718.2,1456.2 722,1453.2 723.9,1452.3"/>
<path class="k" d="M642.8,1444 L642.8,1470.3"/>
<path class="k" d="M660.8,1453.4 L660.8,1483.8"/>
<path class="k" d="M722.7,1453.4 L722.7,1481.5"/>
<path class="k" d="M980.6,1308 L980.6,1332"/>
<ellipse class="k" cx="701.4" cy="1426.4" rx="24.8" ry="13.5"/>
<path class="k" d="M943.5,1301.9 C943.2,1302 942.4,1302.5 941.9,1302.9 C941.3,1303.2 940.7,1303.5 940.1,1303.8 C939.5,1304 938.9,1304.3 938.2,1304.5 C937.6,1304.8 936.9,1305 936.2,1305.2 C935.5,1305.4 934.8,1305.6 934,1305.7 C933.3,1305.9 932.6,1306 931.8,1306.1 C931.1,1306.2 930.3,1306.3 929.5,1306.4 C928.8,1306.4 928,1306.5 927.2,1306.5 C926.5,1306.5 925.7,1306.5 924.9,1306.5 C924.1,1306.4 923.4,1306.4 922.6,1306.3 C921.8,1306.2 921.1,1306.1 920.3,1306 C919.6,1305.8 918.9,1305.7 918.2,1305.5 C917.4,1305.3 916.7,1305.1 916.1,1304.9 C915.4,1304.7 914.7,1304.5 914.1,1304.2 C913.5,1303.9 912.8,1303.7 912.3,1303.4 C911.7,1303.1 911.1,1302.7 910.6,1302.4 C910,1302.1 909.5,1301.7 909.1,1301.4 C908.6,1301 908.2,1300.6 907.8,1300.2 C907.4,1299.8 907,1299.4 906.7,1299 C906.4,1298.6 906.1,1298.2 905.8,1297.7 C905.6,1297.3 905.3,1296.9 905.2,1296.4 C905,1296 904.9,1295.5 904.8,1295.1 C904.7,1294.6 904.6,1294.2 904.6,1293.7 C904.6,1293.3 904.6,1292.8 904.7,1292.3 C904.8,1291.9 904.9,1291.4 905,1291 C905.2,1290.5 905.4,1290.1 905.6,1289.7 C905.8,1289.2 906.1,1288.8 906.4,1288.4 C906.7,1287.9 907,1287.5 907.4,1287.1 C907.8,1286.7 908.2,1286.4 908.7,1286 C909.1,1285.6 909.6,1285.2 910.1,1284.9 C910.6,1284.6 911.2,1284.2 911.7,1283.9 C912.3,1283.6 912.9,1283.3 913.5,1283.1 C914.1,1282.8 914.8,1282.5 915.4,1282.3 C916.1,1282.1 916.8,1281.9 917.5,1281.7 C918.2,1281.5 918.9,1281.3 919.7,1281.2 C920.4,1281 921.1,1280.9 921.9,1280.8 C922.7,1280.7 923.4,1280.6 924.2,1280.6 C925,1280.5 925.7,1280.5 926.5,1280.5 C927.3,1280.5 928.1,1280.5 928.8,1280.6 C929.6,1280.6 930.4,1280.7 931.1,1280.8 C931.9,1280.9 932.6,1281 933.4,1281.1 C934.1,1281.3 934.8,1281.4 935.5,1281.6 C936.2,1281.8 937.3,1282.1 937.6,1282.2"/>
<path class="k" d="M558.1,400 L624.3,362"/>
<path class="k" d="M590.5,449 L652,415.5"/>
<path class="k" d="M623.7,364.7 C624.2,364.5 625.5,363.8 626.5,363.6 C627.5,363.4 628.6,363.3 629.7,363.3 C630.8,363.4 632,363.5 633.2,363.9 C634.4,364.2 635.6,364.6 636.9,365.2 C638.1,365.8 639.3,366.5 640.5,367.4 C641.8,368.2 643,369.2 644.2,370.2 C645.4,371.3 646.6,372.4 647.7,373.7 C648.8,374.9 649.9,376.3 650.9,377.7 C651.9,379.1 652.8,380.5 653.7,382 C654.6,383.5 655.4,385.1 656.1,386.7 C656.8,388.3 657.4,389.9 657.9,391.4 C658.4,393 658.9,394.6 659.2,396.2 C659.5,397.7 659.7,399.3 659.8,400.8 C659.9,402.2 659.9,403.7 659.8,405 C659.7,406.4 659.5,407.7 659.2,408.9 C658.9,410.1 658.4,411.2 657.9,412.2 C657.4,413.1 656.8,414 656.1,414.8 C655.4,415.5 654.1,416.4 653.7,416.7"/>
<path class="m2" d="M574.9,394.9 C575.4,394.8 577,394.6 578.1,394.7 C579.2,394.8 580.3,395 581.5,395.3 C582.6,395.7 583.8,396.1 585,396.7 C586.2,397.3 587.4,398.1 588.6,398.9 C589.8,399.8 591,400.7 592.1,401.8 C593.3,402.8 594.4,404 595.5,405.2 C596.5,406.5 597.6,407.8 598.5,409.2 C599.5,410.6 600.4,412 601.2,413.5 C602,415 602.7,416.5 603.4,418 C604,419.6 604.6,421.1 605.1,422.7 C605.5,424.2 605.9,425.8 606.2,427.3 C606.4,428.8 606.6,430.2 606.6,431.6 C606.7,433.1 606.6,434.4 606.5,435.7 C606.3,437 606,438.2 605.7,439.3 C605.3,440.4 604.8,441.4 604.3,442.3 C603.7,443.2 602.7,444.3 602.3,444.7"/>
<path class="m2" d="M587.7,387.5 C588.2,387.5 589.8,387.2 590.9,387.3 C592,387.4 593.1,387.6 594.3,387.9 C595.4,388.3 596.6,388.8 597.8,389.4 C599,390 600.2,390.7 601.4,391.5 C602.6,392.4 603.8,393.3 604.9,394.4 C606.1,395.4 607.2,396.6 608.3,397.9 C609.3,399.1 610.4,400.4 611.3,401.8 C612.3,403.2 613.2,404.6 614,406.1 C614.8,407.6 615.5,409.1 616.2,410.7 C616.8,412.2 617.4,413.8 617.9,415.3 C618.3,416.8 618.7,418.4 619,419.9 C619.2,421.4 619.4,422.9 619.4,424.3 C619.5,425.7 619.4,427 619.3,428.3 C619.1,429.6 618.8,430.8 618.5,431.9 C618.1,433 617.6,434 617.1,434.9 C616.5,435.8 615.5,436.9 615.1,437.3"/>
<path class="m2" d="M600.6,380.1 C601.1,380 602.7,379.8 603.8,379.9 C604.9,379.9 606,380.1 607.2,380.5 C608.3,380.8 609.5,381.3 610.7,381.9 C611.9,382.5 613.1,383.2 614.3,384.1 C615.5,384.9 616.7,385.9 617.8,387 C619,388 620.1,389.2 621.2,390.4 C622.2,391.6 623.3,393 624.2,394.4 C625.2,395.7 626.1,397.2 626.9,398.7 C627.7,400.1 628.4,401.7 629.1,403.2 C629.7,404.7 630.3,406.3 630.8,407.9 C631.2,409.4 631.6,410.9 631.9,412.4 C632.1,413.9 632.3,415.4 632.3,416.8 C632.4,418.2 632.3,419.6 632.2,420.9 C632,422.1 631.7,423.4 631.4,424.5 C631,425.6 630.5,426.6 630,427.5 C629.4,428.4 628.4,429.4 628,429.8"/>
<path class="m2" d="M613.1,372.8 C613.6,372.8 615.2,372.6 616.3,372.6 C617.4,372.7 618.5,372.9 619.7,373.3 C620.8,373.6 622,374.1 623.2,374.7 C624.4,375.3 625.6,376 626.8,376.9 C628,377.7 629.2,378.7 630.3,379.7 C631.5,380.8 632.6,382 633.7,383.2 C634.7,384.4 635.8,385.8 636.7,387.1 C637.7,388.5 638.6,390 639.4,391.5 C640.2,392.9 640.9,394.5 641.6,396 C642.2,397.5 642.8,399.1 643.3,400.6 C643.7,402.2 644.1,403.7 644.4,405.2 C644.6,406.7 644.8,408.2 644.8,409.6 C644.9,411 644.8,412.4 644.7,413.7 C644.5,414.9 644.2,416.1 643.9,417.2 C643.5,418.3 643,419.4 642.5,420.3 C641.9,421.2 640.9,422.2 640.5,422.6"/>
<path class="k" d="M491.8,428 L507.6,402.1 L533.5,387.9 L572.9,409.5 L592,460.7 L572.9,490 L550.4,501.2 L539.1,496.7  C536.1,495.4 526.6,492.6 521,489 C515.4,485.4 509.8,481.3 505.3,475.3 C500.8,469.3 496.2,460.7 494,452.8 C491.8,444.9 492.2,432.1 491.8,428 Z" style="fill:#fff"/>
<path class="t" d="M507.6,408.9 L550.4,423.1 L572.9,412.2"/>
<path class="t" d="M550.4,423.1 L569.5,471.9 L588.6,459.5"/>
<path class="t" d="M569.5,471.9 L550.4,500.1"/>
<path class="t" d="M508,411 C511.7,412.2 523.2,415.5 530,418 C536.8,420.5 544,421.5 549,426 C554,430.5 557.2,437.7 560,445 C562.8,452.3 565,465.8 566,470"/>
<path class="t" d="M566,475 C565,476.7 562.3,481.5 560,485 C557.7,488.5 553.3,494.2 552,496"/>
<path class="k" d="M810.7,335.5 C810.7,338.2 810.5,340.9 810.1,343.3 C809.7,345.7 809.1,348.1 808.2,350.2 C807.4,352.2 806.4,354.2 805.2,355.9 C804.1,357.5 802.7,359 801.2,360.2 C799.7,361.4 798,362.4 796.2,363.1 C794.4,363.8 792.4,364.3 790.4,364.5 C788.3,364.6 786.1,364.6 783.9,364.2 C781.7,363.9 779.4,363.2 777.1,362.4 C774.7,361.5 772.4,360.4 770,359 C767.6,357.6 765.3,356 762.9,354.2 C760.6,352.4 758.3,350.3 756.1,348.1 C753.9,345.9 751.7,343.5 749.6,341 C747.6,338.4 745.6,335.7 743.8,332.9 C742,330.1 740.3,327.2 738.8,324.2 C737.3,321.3 735.9,318.2 734.8,315.1 C733.6,312.1 732.6,309 731.8,306 C730.9,303 730.3,299.9 729.9,297 C729.5,294.1 729.3,291.2 729.3,288.5 C729.3,285.8 729.5,283.1 729.9,280.7 C730.3,278.3 730.9,275.9 731.8,273.8 C732.6,271.8 733.6,269.8 734.8,268.1 C735.9,266.5 737.3,265 738.8,263.8 C740.3,262.6 742,261.6 743.8,260.9 C745.6,260.2 747.6,259.7 749.6,259.5 C751.7,259.4 753.9,259.4 756.1,259.8 C758.3,260.1 760.6,260.8 762.9,261.6 C765.3,262.5 767.6,263.6 770,265 C772.4,266.4 774.7,268 777.1,269.8 C779.4,271.6 781.7,273.7 783.9,275.9 C786.1,278.1 788.3,280.5 790.4,283 C792.4,285.6 794.4,288.3 796.2,291.1 C798,293.9 799.7,296.8 801.2,299.8 C802.7,302.7 804.1,305.8 805.2,308.9 C806.4,311.9 807.4,315 808.2,318 C809.1,321 809.7,324.1 810.1,327 C810.5,329.9 810.7,332.8 810.7,335.5 Z" style="fill:#fff"/>
<path class="t" d="M803.7,339.5 C803.7,342.2 803.5,344.9 803.1,347.3 C802.7,349.7 802.1,352.1 801.2,354.2 C800.4,356.2 799.4,358.2 798.2,359.9 C797.1,361.5 795.7,363 794.2,364.2 C792.7,365.4 791,366.4 789.2,367.1 C787.4,367.8 785.4,368.3 783.4,368.5 C781.3,368.6 779.1,368.6 776.9,368.2 C774.7,367.9 772.4,367.2 770.1,366.4 C767.7,365.5 765.4,364.4 763,363 C760.6,361.6 758.3,360 755.9,358.2 C753.6,356.4 751.3,354.3 749.1,352.1 C746.9,349.9 744.7,347.5 742.6,345 C740.6,342.4 738.6,339.7 736.8,336.9 C735,334.1 733.3,331.2 731.8,328.2 C730.3,325.3 728.9,322.2 727.8,319.1 C726.6,316.1 725.6,313 724.8,310 C723.9,307 723.3,303.9 722.9,301 C722.5,298.1 722.3,295.2 722.3,292.5 C722.3,289.8 722.5,287.1 722.9,284.7 C723.3,282.3 723.9,279.9 724.8,277.8 C725.6,275.8 726.6,273.8 727.8,272.1 C728.9,270.5 730.3,269 731.8,267.8 C733.3,266.6 735,265.6 736.8,264.9 C738.6,264.2 740.6,263.7 742.6,263.5 C744.7,263.4 746.9,263.4 749.1,263.8 C751.3,264.1 753.6,264.8 755.9,265.6 C758.3,266.5 760.6,267.6 763,269 C765.4,270.4 767.7,272 770.1,273.8 C772.4,275.6 774.7,277.7 776.9,279.9 C779.1,282.1 781.3,284.5 783.4,287 C785.4,289.6 787.4,292.3 789.2,295.1 C791,297.9 792.7,300.8 794.2,303.8 C795.7,306.7 797.1,309.8 798.2,312.9 C799.4,315.9 800.4,319 801.2,322 C802.1,325 802.7,328.1 803.1,331 C803.5,333.9 803.7,336.8 803.7,339.5 Z" style="fill:#fff"/>
<path class="k" d="M783.4,368.5 C782.3,368.4 779.1,368.6 776.9,368.2 C774.7,367.9 772.4,367.2 770.1,366.4 C767.7,365.5 765.4,364.4 763,363 C760.6,361.6 758.3,360 755.9,358.2 C753.6,356.4 751.3,354.3 749.1,352.1 C746.9,349.9 744.7,347.5 742.6,345 C740.6,342.4 738.6,339.7 736.8,336.9 C735,334.1 733.3,331.2 731.8,328.2 C730.3,325.3 728.9,322.2 727.8,319.1 C726.6,316.1 725.6,313 724.8,310 C723.9,307 723.3,303.9 722.9,301 C722.5,298.1 722.3,295.2 722.3,292.5 C722.3,289.8 722.5,287.1 722.9,284.7 C723.3,282.3 723.9,279.9 724.8,277.8 C725.6,275.8 726.6,273.8 727.8,272.1 C728.9,270.5 730.3,269 731.8,267.8 C733.3,266.6 735,265.6 736.8,264.9 C738.6,264.2 740.6,263.7 742.6,263.5 C744.7,263.4 746.9,263.4 749.1,263.8 C751.3,264.1 753.6,264.8 755.9,265.6 C758.3,266.5 760.6,267.6 763,269 C765.4,270.4 767.7,272 770.1,273.8 C772.4,275.6 775.8,278.9 776.9,279.9"/>
<path class="k" d="M778.2,345.7 C777.8,345.9 777.4,346 776.9,346.1 C776.5,346.2 776,346.2 775.5,346.2 C775.1,346.2 774.6,346.1 774.1,346 C773.5,345.9 773,345.7 772.5,345.5 C771.9,345.3 771.4,345 770.8,344.7 C770.3,344.4 769.7,344 769.1,343.6 C768.5,343.2 767.9,342.7 767.3,342.2 C766.8,341.7 766.2,341.2 765.6,340.6 C765,340 764.4,339.4 763.8,338.8 C763.2,338.1 762.6,337.4 762,336.7 C761.4,335.9 760.9,335.2 760.3,334.4 C759.7,333.6 759.2,332.8 758.6,331.9 C758.1,331.1 757.6,330.2 757.1,329.3 C756.5,328.4 756,327.5 755.6,326.6 C755.1,325.7 754.6,324.7 754.2,323.8 C753.7,322.8 753.3,321.9 752.9,320.9 C752.5,320 752.1,319 751.8,318 C751.4,317 751.1,316.1 750.8,315.1 C750.5,314.2 750.2,313.2 750,312.3 C749.8,311.3 749.5,310.4 749.3,309.5 C749.2,308.6 749,307.7 748.9,306.8 C748.8,305.9 748.7,305.1 748.6,304.2 C748.5,303.4 748.5,302.6 748.5,301.8 C748.5,301.1 748.5,300.3 748.6,299.6 C748.6,298.9 748.7,298.2 748.9,297.6 C749,297 749.1,296.4 749.3,295.8 C749.5,295.3 749.7,294.7 749.9,294.3 C750.2,293.8 750.4,293.4 750.7,293 C751,292.6 751.4,292.3 751.7,292 C752.1,291.7 752.4,291.5 752.8,291.3 C753.2,291.1 753.6,291 754.1,290.9 C754.5,290.8 755,290.8 755.5,290.8 C755.9,290.8 756.4,290.9 756.9,291 C757.5,291.1 758,291.3 758.5,291.5 C759.1,291.7 759.6,292 760.2,292.3 C760.7,292.6 761.3,293 761.9,293.4 C762.5,293.8 763.1,294.3 763.7,294.8 C764.2,295.3 764.8,295.8 765.4,296.4 C766,297 766.6,297.6 767.2,298.2 C767.8,298.9 768.4,299.6 769,300.3 C769.6,301.1 770.1,301.8 770.7,302.6 C771.3,303.4 771.8,304.2 772.4,305.1 C772.9,305.9 773.4,306.8 773.9,307.7 C774.5,308.6 775,309.5 775.4,310.4 C775.9,311.3 776.4,312.3 776.8,313.2 C777.3,314.2 777.7,315.1 778.1,316.1 C778.5,317 778.9,318 779.2,319 C779.6,320 779.9,320.9 780.2,321.9 C780.5,322.8 780.8,323.8 781,324.7 C781.2,325.7 781.5,326.6 781.7,327.5 C781.8,328.4 782,329.3 782.1,330.2 C782.2,331.1 782.3,331.9 782.4,332.8 C782.5,333.6 782.5,334.4 782.5,335.2 C782.5,335.9 782.5,336.7 782.4,337.4 C782.4,338.1 782.3,338.8 782.1,339.4 C782,340 781.9,340.6 781.7,341.2 C781.5,341.7 781.3,342.3 781.1,342.7 C780.8,343.2 780.6,343.6 780.3,344 C780,344.4 779.6,344.7 779.3,345 C778.9,345.3 778.6,345.5 778.2,345.7 Z"/>
<path class="t" d="M770.9,348.1 C770.7,348.1 770,348.3 769.6,348.3 C769.1,348.3 768.6,348.2 768.1,348.1 C767.5,348 767,347.8 766.5,347.6 C765.9,347.4 765.4,347.2 764.8,346.9 C764.2,346.6 763.6,346.2 763.1,345.8 C762.5,345.4 761.9,345 761.3,344.5 C760.7,344 760.1,343.5 759.5,342.9 C758.9,342.3 758.3,341.7 757.7,341 C757.1,340.4 756.5,339.7 755.9,338.9 C755.3,338.2 754.8,337.4 754.2,336.7 C753.6,335.9 753.1,335 752.5,334.2 C752,333.3 751.4,332.5 750.9,331.6 C750.4,330.7 749.9,329.8 749.4,328.8 C749,327.9 748.5,327 748.1,326 C747.6,325.1 747.2,324.1 746.8,323.1 C746.4,322.2 746,321.2 745.7,320.2 C745.4,319.3 745,318.3 744.7,317.3 C744.5,316.4 744.2,315.4 744,314.5 C743.7,313.5 743.5,312.6 743.4,311.7 C743.2,310.8 743,309.9 742.9,309 C742.8,308.2 742.8,307.3 742.7,306.5 C742.7,305.7 742.6,304.9 742.7,304.1 C742.7,303.4 742.7,302.6 742.8,301.9 C742.9,301.2 743,300.6 743.1,300 C743.3,299.4 743.5,298.8 743.7,298.2 C743.9,297.7 744.1,297.2 744.4,296.8 C744.6,296.3 745.1,295.8 745.3,295.6"/>
<path class="k" d="M679.4,1043.3 L679.4,1097.7"/>
<path class="k" d="M679.4,1097.7 C680,1098.9 681.2,1103.1 683,1105 C684.8,1106.9 687,1108.1 690,1109 C693,1109.9 697.2,1110.5 700.9,1110.5 C704.6,1110.5 708.9,1109.9 712,1109 C715.1,1108.1 717.7,1106.9 719.5,1105 C721.3,1103.1 722.3,1098.9 722.9,1097.7"/>
<path class="k" d="M722.9,1097.7 L722.9,1043.3"/>
<path class="t" d="M682,1058.8 C683.3,1059.7 686.8,1063.1 690,1064.3 C693.2,1065.5 697.3,1065.8 701,1065.8 C704.7,1065.8 708.8,1065.5 712,1064.3 C715.2,1063.1 718.7,1059.7 720,1058.8"/>
<path class="t" d="M682,1074.4 C683.3,1075.3 686.8,1078.7 690,1079.9 C693.2,1081.1 697.3,1081.4 701,1081.4 C704.7,1081.4 708.8,1081.1 712,1079.9 C715.2,1078.7 718.7,1075.3 720,1074.4"/>
<path class="t" d="M682,1088.9 C683.3,1089.8 686.8,1093.2 690,1094.4 C693.2,1095.6 697.3,1095.9 701,1095.9 C704.7,1095.9 708.8,1095.6 712,1094.4 C715.2,1093.2 718.7,1089.8 720,1088.9"/>
<path class="k" d="M669.6,990.6 C673.1,989 684,982.4 690.4,980.8 C696.8,979.2 701.1,979.9 707.8,980.8 C714.5,981.7 726.6,985.1 730.4,986" style="fill:#fff"/>
<path class="k" d="M660.3,997 L669.6,990.6 M730.4,986 L736.8,995.8 L742.6,1009.7 L742.6,1031.7 L712.4,1047.3 L671.9,1042.1 L660.9,1019 L660.3,997"/>
<path class="t" d="M664.4,998.7 L671.9,1021.9 L711.3,1026.5 L739.1,1010.9"/>
<path class="t" d="M671.9,1021.9 L671.9,1042.1"/>
<path class="t" d="M711.3,1026.5 L711.3,1047.3"/>
<path class="t" d="M666,999 C666.8,1001.2 667.8,1008.5 671,1012 C674.2,1015.5 679.3,1018.1 685,1020 C690.7,1021.9 698.8,1023.3 705,1023.5 C711.2,1023.7 716.8,1022.9 722,1021 C727.2,1019.1 733.7,1013.5 736,1012"/>
<path class="k" d="M742.6,1031.7 L712.4,1047.3"/>
<path class="k" d="M1110.2,913.3 L1110.2,967.7"/>
<path class="k" d="M1110.2,967.7 C1110.8,968.9 1112,973.1 1113.8,975 C1115.6,976.9 1117.8,978.1 1120.8,979 C1123.8,979.9 1128,980.5 1131.7,980.5 C1135.4,980.5 1139.7,979.9 1142.8,979 C1145.9,978.1 1148.5,976.9 1150.3,975 C1152.1,973.1 1153.1,968.9 1153.7,967.7"/>
<path class="k" d="M1153.7,967.7 L1153.7,913.3"/>
<path class="t" d="M1112.8,928.8 C1114.1,929.7 1117.6,933.1 1120.8,934.3 C1124,935.5 1128.1,935.8 1131.8,935.8 C1135.5,935.8 1139.6,935.5 1142.8,934.3 C1146,933.1 1149.5,929.7 1150.8,928.8"/>
<path class="t" d="M1112.8,944.4 C1114.1,945.3 1117.6,948.7 1120.8,949.9 C1124,951.1 1128.1,951.4 1131.8,951.4 C1135.5,951.4 1139.6,951.1 1142.8,949.9 C1146,948.7 1149.5,945.3 1150.8,944.4"/>
<path class="t" d="M1112.8,958.9 C1114.1,959.8 1117.6,963.2 1120.8,964.4 C1124,965.6 1128.1,965.9 1131.8,965.9 C1135.5,965.9 1139.6,965.6 1142.8,964.4 C1146,963.2 1149.5,959.8 1150.8,958.9"/>
<path class="k" d="M1100.4,860.6 C1103.9,859 1114.8,852.4 1121.2,850.8 C1127.6,849.2 1131.9,849.9 1138.6,850.8 C1145.3,851.7 1157.4,855.1 1161.2,856" style="fill:#fff"/>
<path class="k" d="M1091.1,867 L1100.4,860.6 M1161.2,856 L1167.6,865.8 L1173.4,879.7 L1173.4,901.7 L1143.2,917.3 L1102.7,912.1 L1091.7,889 L1091.1,867"/>
<path class="t" d="M1095.2,868.7 L1102.7,891.9 L1142.1,896.5 L1169.9,880.9"/>
<path class="t" d="M1102.7,891.9 L1102.7,912.1"/>
<path class="t" d="M1142.1,896.5 L1142.1,917.3"/>
<path class="t" d="M1096.8,869 C1097.6,871.2 1098.6,878.5 1101.8,882 C1105,885.5 1110.1,888.1 1115.8,890 C1121.5,891.9 1129.6,893.3 1135.8,893.5 C1142,893.7 1147.6,892.9 1152.8,891 C1158,889.1 1164.5,883.5 1166.8,882"/>
<path class="k" d="M1173.4,901.7 L1143.2,917.3"/>
<path class="k" d="M625,1862 L625,1679 L944.6,1494.3 L1179.3,1629.8 L1179.3,1902.3 L860.3,2088.1 L785.3,2043.5" style="fill:#fff"/>
<path class="t" d="M625,1679 L860,1815.6 L1179.3,1629.8"/>
<path class="t" d="M860,1815.6 L860.3,2088.1"/>
<path class="k" d="M1179.3,1629.8 C1181.6,1631.2 1189,1634.4 1193,1638 C1197,1641.6 1199.9,1644.5 1203.6,1651.2 C1207.2,1657.9 1212.5,1669.2 1214.9,1678.2 C1217.3,1687.2 1218.6,1697.3 1218.2,1705.2 C1217.8,1713.1 1215.8,1720.2 1212.6,1725.5 C1209.4,1730.8 1201.3,1734.9 1199.1,1736.8"/>
<path class="k" d="M1180,1682.7 C1181.7,1685.7 1187.2,1693.2 1190,1700.7 C1192.8,1708.2 1195.7,1715.7 1196.8,1727.7 C1197.9,1739.7 1197.3,1760.4 1196.8,1772.8 C1196.2,1785.2 1196.1,1795.6 1193.5,1802 C1190.9,1808.4 1183.1,1809.5 1181,1811"/>
<path class="t" d="M1181,1722 L1199,1712"/>
<ellipse class="m" cx="700.2" cy="1672.6" rx="19.7" ry="11.3"/>
<path class="t" d="M684.2,1675.6 C684.2,1675.5 684.2,1675 684.3,1674.8 C684.3,1674.5 684.4,1674.2 684.5,1673.9 C684.7,1673.7 684.8,1673.4 685,1673.1 C685.2,1672.9 685.4,1672.6 685.6,1672.3 C685.8,1672.1 686.1,1671.8 686.3,1671.6 C686.6,1671.4 686.9,1671.1 687.3,1670.9 C687.6,1670.7 687.9,1670.5 688.3,1670.2 C688.7,1670 689.1,1669.8 689.5,1669.7 C689.9,1669.5 690.3,1669.3 690.8,1669.1 C691.2,1669 691.7,1668.8 692.2,1668.7 C692.7,1668.5 693.2,1668.4 693.7,1668.3 C694.2,1668.2 694.7,1668.1 695.3,1668 C695.8,1667.9 696.3,1667.8 696.9,1667.8 C697.4,1667.7 698,1667.7 698.5,1667.6 C699.1,1667.6 699.6,1667.6 700.2,1667.6 C700.8,1667.6 701.3,1667.6 701.9,1667.6 C702.4,1667.7 703,1667.7 703.5,1667.8 C704.1,1667.8 704.6,1667.9 705.1,1668 C705.7,1668.1 706.2,1668.2 706.7,1668.3 C707.2,1668.4 707.7,1668.5 708.2,1668.7 C708.7,1668.8 709.2,1669 709.6,1669.1 C710.1,1669.3 710.5,1669.5 710.9,1669.7 C711.3,1669.8 711.7,1670 712.1,1670.2 C712.5,1670.5 712.8,1670.7 713.1,1670.9 C713.5,1671.1 713.8,1671.4 714.1,1671.6 C714.3,1671.8 714.6,1672.1 714.8,1672.3 C715,1672.6 715.2,1672.9 715.4,1673.1 C715.6,1673.4 715.7,1673.7 715.9,1673.9 C716,1674.2 716.1,1674.5 716.1,1674.8 C716.2,1675 716.2,1675.5 716.2,1675.6"/>
<ellipse class="m" cx="930.6" cy="1539" rx="19.7" ry="11.3"/>
<path class="t" d="M914.6,1542 C914.6,1541.9 914.6,1541.4 914.7,1541.2 C914.7,1540.9 914.8,1540.6 914.9,1540.3 C915.1,1540.1 915.2,1539.8 915.4,1539.5 C915.6,1539.3 915.8,1539 916,1538.7 C916.2,1538.5 916.5,1538.2 916.7,1538 C917,1537.8 917.3,1537.5 917.7,1537.3 C918,1537.1 918.3,1536.9 918.7,1536.6 C919.1,1536.4 919.5,1536.2 919.9,1536.1 C920.3,1535.9 920.7,1535.7 921.2,1535.5 C921.6,1535.4 922.1,1535.2 922.6,1535.1 C923.1,1534.9 923.6,1534.8 924.1,1534.7 C924.6,1534.6 925.1,1534.5 925.7,1534.4 C926.2,1534.3 926.7,1534.2 927.3,1534.2 C927.8,1534.1 928.4,1534.1 928.9,1534 C929.5,1534 930,1534 930.6,1534 C931.2,1534 931.7,1534 932.3,1534 C932.8,1534.1 933.4,1534.1 933.9,1534.2 C934.5,1534.2 935,1534.3 935.5,1534.4 C936.1,1534.5 936.6,1534.6 937.1,1534.7 C937.6,1534.8 938.1,1534.9 938.6,1535.1 C939.1,1535.2 939.6,1535.4 940,1535.5 C940.5,1535.7 940.9,1535.9 941.3,1536.1 C941.7,1536.2 942.1,1536.4 942.5,1536.6 C942.9,1536.9 943.2,1537.1 943.5,1537.3 C943.9,1537.5 944.2,1537.8 944.5,1538 C944.7,1538.2 945,1538.5 945.2,1538.7 C945.4,1539 945.6,1539.3 945.8,1539.5 C946,1539.8 946.1,1540.1 946.3,1540.3 C946.4,1540.6 946.5,1540.9 946.5,1541.2 C946.6,1541.4 946.6,1541.9 946.6,1542"/>
<path class="t" d="M795.1,1680 C795.2,1679.1 795.3,1676.6 795.6,1674.9 C795.9,1673.2 796.4,1671.5 797.1,1669.8 C797.7,1668.1 798.6,1666.5 799.5,1664.9 C800.5,1663.2 801.6,1661.6 802.9,1660.1 C804.2,1658.5 805.6,1657 807.2,1655.5 C808.8,1654 810.5,1652.6 812.4,1651.2 C814.2,1649.8 816.2,1648.5 818.3,1647.2 C820.5,1645.9 822.7,1644.7 825,1643.6 C827.4,1642.4 829.9,1641.4 832.4,1640.4 C835,1639.4 837.6,1638.4 840.4,1637.6 C843.1,1636.7 845.9,1635.9 848.8,1635.2 C851.7,1634.5 854.6,1633.9 857.6,1633.4 C860.6,1632.9 863.7,1632.4 866.8,1632.1 C869.9,1631.7 873,1631.4 876.1,1631.3 C879.3,1631.1 882.4,1631 885.6,1631 C888.8,1631 891.9,1631.1 895.1,1631.3 C898.2,1631.4 901.3,1631.7 904.4,1632.1 C907.5,1632.4 910.6,1632.9 913.6,1633.4 C916.6,1633.9 919.5,1634.5 922.4,1635.2 C925.3,1635.9 928.1,1636.7 930.9,1637.6 C933.6,1638.4 936.2,1639.4 938.8,1640.4 C941.3,1641.4 943.8,1642.4 946.2,1643.6 C948.5,1644.7 950.7,1645.9 952.9,1647.2 C955,1648.5 957,1649.8 958.8,1651.2 C960.7,1652.6 962.4,1654 964,1655.5 C965.6,1657 967,1658.5 968.3,1660.1 C969.6,1661.6 970.7,1663.2 971.7,1664.9 C972.6,1666.5 973.5,1668.1 974.1,1669.8 C974.8,1671.5 975.3,1673.2 975.6,1674.9 C975.9,1676.6 976,1679.1 976.1,1680"/>
<ellipse class="m" cx="885.6" cy="1685" rx="91.5" ry="50"/>
<path class="k" d="M968.5,1663.9 C969.1,1664.7 971.1,1667.1 972.1,1668.8 C973.2,1670.4 974.1,1672.1 974.8,1673.8 C975.5,1675.6 976.1,1677.3 976.4,1679 C976.8,1680.8 977,1682.6 977.1,1684.3 C977.1,1686.1 977,1687.8 976.7,1689.6 C976.4,1691.3 976,1693.1 975.3,1694.8 C974.7,1696.5 973.9,1698.2 972.9,1699.9 C972,1701.6 970.8,1703.3 969.6,1704.9 C968.3,1706.5 966.8,1708.1 965.3,1709.6 C963.7,1711.1 961.9,1712.6 960.1,1714.1 C958.2,1715.5 956.2,1716.9 954,1718.2 C951.9,1719.5 949.6,1720.8 947.3,1721.9 C944.9,1723.1 942.4,1724.2 939.8,1725.3 C937.2,1726.3 934.5,1727.3 931.7,1728.2 C928.9,1729.1 926.1,1729.9 923.1,1730.6 C920.2,1731.3 917.2,1732 914.1,1732.5 C911.1,1733.1 907.9,1733.5 904.8,1733.9 C901.6,1734.3 898.4,1734.5 895.2,1734.7 C892,1734.9 888.8,1735 885.6,1735 C882.4,1735 879.2,1734.9 876,1734.7 C872.8,1734.5 869.6,1734.3 866.4,1733.9 C863.3,1733.5 860.1,1733.1 857.1,1732.5 C854,1732 851,1731.3 848.1,1730.6 C845.1,1729.9 842.3,1729.1 839.5,1728.2 C836.7,1727.3 834,1726.3 831.4,1725.3 C828.8,1724.2 826.3,1723.1 823.9,1721.9 C821.6,1720.8 819.3,1719.5 817.2,1718.2 C815,1716.9 813,1715.5 811.1,1714.1 C809.3,1712.6 807.5,1711.1 805.9,1709.6 C804.4,1708.1 802.9,1706.5 801.6,1704.9 C800.4,1703.3 799.2,1701.6 798.3,1699.9 C797.3,1698.2 796.5,1696.5 795.9,1694.8 C795.2,1693.1 794.8,1691.3 794.5,1689.6 C794.2,1687.8 794.1,1686.1 794.1,1684.3 C794.2,1682.6 794.4,1680.8 794.8,1679 C795.1,1677.3 795.7,1675.6 796.4,1673.8 C797.1,1672.1 798,1670.4 799.1,1668.8 C800.1,1667.1 802.1,1664.7 802.7,1663.9"/>
<ellipse class="m2" cx="886" cy="1690.6" rx="55.2" ry="31.5"/>
<path class="k" d="M939.3,1682.4 C939.5,1683 940.2,1684.6 940.5,1685.7 C940.8,1686.8 941,1687.9 941.1,1689 C941.2,1690 941.2,1691.2 941.1,1692.2 C941,1693.3 940.8,1694.4 940.5,1695.5 C940.2,1696.6 939.8,1697.7 939.3,1698.8 C938.8,1699.8 938.2,1700.9 937.5,1701.9 C936.8,1702.9 936.1,1703.9 935.2,1704.9 C934.3,1705.9 933.3,1706.8 932.3,1707.8 C931.2,1708.7 930.1,1709.6 928.9,1710.4 C927.7,1711.3 926.4,1712.1 925,1712.9 C923.7,1713.6 922.2,1714.4 920.7,1715.1 C919.2,1715.8 917.7,1716.4 916.1,1717 C914.5,1717.6 912.8,1718.2 911.1,1718.7 C909.3,1719.2 907.6,1719.6 905.8,1720 C904,1720.4 902.1,1720.7 900.3,1721 C898.4,1721.3 896.5,1721.5 894.6,1721.7 C892.7,1721.9 890.8,1722 888.9,1722.1 C887,1722.1 885,1722.1 883.1,1722.1 C881.2,1722 879.3,1721.9 877.4,1721.7 C875.5,1721.5 873.6,1721.3 871.7,1721 C869.9,1720.7 868,1720.4 866.2,1720 C864.4,1719.6 862.7,1719.2 860.9,1718.7 C859.2,1718.2 857.5,1717.6 855.9,1717 C854.3,1716.4 852.8,1715.8 851.3,1715.1 C849.8,1714.4 848.3,1713.6 847,1712.9 C845.6,1712.1 844.3,1711.3 843.1,1710.4 C841.9,1709.6 840.8,1708.7 839.7,1707.8 C838.7,1706.8 837.7,1705.9 836.8,1704.9 C835.9,1703.9 835.2,1702.9 834.5,1701.9 C833.8,1700.9 833.2,1699.8 832.7,1698.8 C832.2,1697.7 831.8,1696.6 831.5,1695.5 C831.2,1694.4 831,1693.3 830.9,1692.2 C830.8,1691.2 830.8,1690 830.9,1689 C831,1687.9 831.2,1686.8 831.5,1685.7 C831.8,1684.6 832.5,1683 832.7,1682.4"/>
<path class="t" d="M835,1696 C835,1695.6 835.1,1694.3 835.3,1693.4 C835.5,1692.5 835.7,1691.7 836.1,1690.8 C836.5,1690 836.9,1689.1 837.5,1688.3 C838,1687.4 838.7,1686.6 839.4,1685.8 C840.1,1685 840.9,1684.3 841.8,1683.5 C842.7,1682.7 843.7,1682 844.7,1681.3 C845.8,1680.6 846.9,1679.9 848.1,1679.3 C849.3,1678.6 850.6,1678 851.9,1677.4 C853.2,1676.8 854.6,1676.3 856,1675.8 C857.5,1675.3 859,1674.8 860.5,1674.3 C862,1673.9 863.6,1673.5 865.3,1673.2 C866.9,1672.8 868.6,1672.5 870.2,1672.2 C871.9,1672 873.7,1671.7 875.4,1671.5 C877.1,1671.4 878.9,1671.2 880.7,1671.1 C882.4,1671 884.2,1671 886,1671 C887.8,1671 889.6,1671 891.3,1671.1 C893.1,1671.2 894.9,1671.4 896.6,1671.5 C898.3,1671.7 900.1,1672 901.8,1672.2 C903.4,1672.5 905.1,1672.8 906.7,1673.2 C908.4,1673.5 910,1673.9 911.5,1674.3 C913,1674.8 914.5,1675.3 916,1675.8 C917.4,1676.3 918.8,1676.8 920.1,1677.4 C921.4,1678 922.7,1678.6 923.9,1679.3 C925.1,1679.9 926.2,1680.6 927.3,1681.3 C928.3,1682 929.3,1682.7 930.2,1683.5 C931.1,1684.3 931.9,1685 932.6,1685.8 C933.3,1686.6 934,1687.4 934.5,1688.3 C935.1,1689.1 935.5,1690 935.9,1690.8 C936.3,1691.7 936.5,1692.5 936.7,1693.4 C936.9,1694.3 937,1695.6 937,1696"/>
<path class="m" d="M937.8,1600 L982.9,1603"/>
<path class="t" d="M956,1589 L963,1614"/>
<path class="t" d="M959,1588.5 L966,1613.5"/>
<circle cx="966.7" cy="1584.7" r="1.6" fill="#000"/>
<path class="wf" d="M709.4,2082.4 L703,2085.3 L696,2087.1 L688.6,2087.8 L680.7,2087.3 L672.5,2085.7 L664.1,2082.9 L655.5,2079 L646.9,2074 L638.3,2068 L629.9,2061.1 L621.7,2053.3 L613.8,2044.7 L606.4,2035.4 L599.4,2025.5 L593,2015.2 L587.3,2004.5 L582.2,1993.5 L577.9,1982.4 L574.4,1971.3 L571.7,1960.3 L569.9,1949.5 L569,1939.1 L569,1929.2 L569.9,1919.8 L571.7,1911.1 L574.4,1903.2 L577.9,1896.1 L582.2,1890 L587.3,1884.9 L593,1880.8 L698.3,1815.1 L704.9,1812 L712,1810.2 L719.7,1809.5 L727.7,1810 L736.1,1811.7 L744.8,1814.6 L753.6,1818.6 L762.4,1823.7 L771.2,1829.8 L779.9,1836.9 L788.3,1844.9 L796.3,1853.8 L804,1863.3 L811.1,1873.4 L817.7,1884 L823.6,1895 L828.8,1906.3 L833.2,1917.7 L836.8,1929.1 L839.6,1940.4 L841.4,1951.4 L842.3,1962.1 L842.3,1972.3 L841.4,1981.9 L839.6,1990.8 L836.8,1999 L833.2,2006.2 L828.8,2012.5 L823.6,2017.7 L817.7,2021.9 Z"/>
<path class="wf" d="M842.4,1967.2 C842.4,1970.8 842.3,1974.2 841.9,1977.5 C841.6,1980.8 841.1,1984 840.5,1987.1 C839.8,1990.1 839,1993.1 838,1995.8 C837,1998.6 835.9,2001.2 834.6,2003.7 C833.4,2006.1 831.9,2008.4 830.4,2010.5 C828.8,2012.6 827.1,2014.6 825.2,2016.3 C823.4,2018 821.4,2019.6 819.3,2020.9 C817.2,2022.3 815,2023.4 812.7,2024.4 C810.3,2025.3 807.9,2026 805.4,2026.6 C802.9,2027.1 800.2,2027.4 797.6,2027.5 C794.9,2027.6 792.1,2027.5 789.3,2027.1 C786.4,2026.8 783.5,2026.2 780.6,2025.5 C777.7,2024.7 774.7,2023.8 771.7,2022.6 C768.7,2021.4 765.6,2020.1 762.6,2018.5 C759.5,2016.9 756.5,2015.2 753.4,2013.2 C750.4,2011.3 747.3,2009.1 744.3,2006.8 C741.3,2004.5 738.3,2002 735.4,1999.4 C732.5,1996.8 729.6,1994 726.7,1991 C723.9,1988.1 721.1,1985 718.4,1981.8 C715.8,1978.6 713.1,1975.3 710.6,1971.8 C708.1,1968.4 705.7,1964.9 703.3,1961.3 C701,1957.6 698.8,1953.9 696.7,1950.2 C694.6,1946.4 692.6,1942.6 690.8,1938.7 C688.9,1934.8 687.2,1930.9 685.6,1927 C684.1,1923.1 682.6,1919.1 681.4,1915.2 C680.1,1911.3 679,1907.3 678,1903.4 C677,1899.5 676.2,1895.7 675.5,1891.8 C674.9,1888 674.4,1884.3 674.1,1880.6 C673.7,1876.9 673.6,1873.3 673.6,1869.8 C673.6,1866.2 673.7,1862.8 674.1,1859.5 C674.4,1856.2 674.9,1853 675.5,1849.9 C676.2,1846.9 677,1843.9 678,1841.2 C679,1838.4 680.1,1835.8 681.4,1833.3 C682.6,1830.9 684.1,1828.6 685.6,1826.5 C687.2,1824.4 688.9,1822.4 690.8,1820.7 C692.6,1819 694.6,1817.4 696.7,1816.1 C698.8,1814.7 701,1813.6 703.3,1812.6 C705.7,1811.7 708.1,1811 710.6,1810.4 C713.1,1809.9 715.8,1809.6 718.4,1809.5 C721.1,1809.4 723.9,1809.5 726.7,1809.9 C729.6,1810.2 732.5,1810.8 735.4,1811.5 C738.3,1812.3 741.3,1813.2 744.3,1814.4 C747.3,1815.6 750.4,1816.9 753.4,1818.5 C756.5,1820.1 759.5,1821.8 762.6,1823.8 C765.6,1825.7 768.7,1827.9 771.7,1830.2 C774.7,1832.5 777.7,1835 780.6,1837.6 C783.5,1840.2 786.4,1843 789.3,1846 C792.1,1848.9 794.9,1852 797.6,1855.2 C800.2,1858.4 802.9,1861.7 805.4,1865.2 C807.9,1868.6 810.3,1872.1 812.7,1875.7 C815,1879.4 817.2,1883.1 819.3,1886.8 C821.4,1890.6 823.4,1894.4 825.2,1898.3 C827.1,1902.2 828.8,1906.1 830.4,1910 C831.9,1913.9 833.4,1917.9 834.6,1921.8 C835.9,1925.7 837,1929.7 838,1933.6 C839,1937.5 839.8,1941.3 840.5,1945.2 C841.1,1949 841.6,1952.7 841.9,1956.4 C842.3,1960.1 842.4,1963.7 842.4,1967.2 Z"/>
<path class="wf" d="M823,1982.2 C823,1985.8 822.9,1989.2 822.6,1992.5 C822.2,1995.8 821.8,1999 821.1,2002 C820.5,2005.1 819.7,2008.1 818.8,2010.8 C817.8,2013.6 816.7,2016.3 815.5,2018.8 C814.3,2021.3 812.9,2023.6 811.4,2025.8 C809.9,2027.9 808.2,2029.9 806.4,2031.7 C804.6,2033.5 802.7,2035.2 800.7,2036.6 C798.7,2038 796.5,2039.3 794.2,2040.3 C792,2041.4 789.6,2042.2 787.2,2042.8 C784.7,2043.5 782.1,2043.9 779.5,2044.2 C776.9,2044.4 774.2,2044.4 771.4,2044.2 C768.6,2044.1 765.8,2043.7 762.9,2043.1 C760,2042.5 757.1,2041.7 754.1,2040.8 C751.1,2039.8 748.1,2038.6 745.1,2037.2 C742.1,2035.8 739,2034.3 736,2032.5 C733,2030.7 729.9,2028.8 726.9,2026.7 C723.9,2024.6 720.9,2022.3 717.9,2019.9 C714.9,2017.4 712,2014.8 709.1,2012.1 C706.2,2009.3 703.4,2006.4 700.6,2003.4 C697.8,2000.3 695.1,1997.2 692.5,1993.9 C689.9,1990.6 687.3,1987.2 684.8,1983.8 C682.4,1980.3 680,1976.7 677.8,1973.1 C675.5,1969.4 673.3,1965.7 671.3,1961.9 C669.3,1958.1 667.4,1954.3 665.6,1950.4 C663.8,1946.6 662.1,1942.6 660.6,1938.7 C659.1,1934.8 657.7,1930.9 656.5,1927 C655.3,1923.1 654.2,1919.1 653.2,1915.3 C652.3,1911.4 651.5,1907.5 650.9,1903.7 C650.2,1900 649.8,1896.2 649.4,1892.5 C649.1,1888.9 649,1885.3 649,1881.8 C649,1878.2 649.1,1874.8 649.4,1871.5 C649.8,1868.2 650.2,1865 650.9,1862 C651.5,1858.9 652.3,1855.9 653.2,1853.2 C654.2,1850.4 655.3,1847.7 656.5,1845.2 C657.7,1842.7 659.1,1840.4 660.6,1838.2 C662.1,1836.1 663.8,1834.1 665.6,1832.3 C667.4,1830.5 669.3,1828.8 671.3,1827.4 C673.3,1826 675.5,1824.7 677.8,1823.7 C680,1822.6 682.4,1821.8 684.8,1821.2 C687.3,1820.5 689.9,1820.1 692.5,1819.8 C695.1,1819.6 697.8,1819.6 700.6,1819.8 C703.4,1819.9 706.2,1820.3 709.1,1820.9 C712,1821.5 714.9,1822.3 717.9,1823.2 C720.9,1824.2 723.9,1825.4 726.9,1826.8 C729.9,1828.2 733,1829.7 736,1831.5 C739,1833.3 742.1,1835.2 745.1,1837.3 C748.1,1839.4 751.1,1841.7 754.1,1844.1 C757.1,1846.6 760,1849.2 762.9,1851.9 C765.8,1854.7 768.6,1857.6 771.4,1860.6 C774.2,1863.7 776.9,1866.8 779.5,1870.1 C782.1,1873.4 784.7,1876.8 787.2,1880.2 C789.6,1883.7 792,1887.3 794.2,1890.9 C796.5,1894.6 798.7,1898.3 800.7,1902.1 C802.7,1905.9 804.6,1909.7 806.4,1913.6 C808.2,1917.4 809.9,1921.4 811.4,1925.3 C812.9,1929.2 814.3,1933.1 815.5,1937 C816.7,1940.9 817.8,1944.9 818.8,1948.7 C819.7,1952.6 820.5,1956.5 821.1,1960.3 C821.8,1964 822.2,1967.8 822.6,1971.5 C822.9,1975.1 823,1978.7 823,1982.2 Z"/>
<path class="wf" d="M788.2,1999 C788.2,2002.5 788.1,2005.9 787.8,2009.2 C787.4,2012.5 786.9,2015.8 786.3,2018.8 C785.7,2021.9 784.9,2024.8 783.9,2027.6 C782.9,2030.4 781.8,2033 780.6,2035.5 C779.3,2038 777.9,2040.3 776.4,2042.4 C774.8,2044.5 773.1,2046.5 771.3,2048.3 C769.5,2050 767.6,2051.6 765.5,2053 C763.4,2054.4 761.2,2055.6 759,2056.6 C756.7,2057.6 754.3,2058.4 751.8,2059 C749.3,2059.5 746.7,2059.9 744,2060.1 C741.4,2060.3 738.6,2060.2 735.8,2060 C733,2059.7 730.2,2059.2 727.3,2058.6 C724.3,2057.9 721.4,2057 718.4,2056 C715.4,2054.9 712.4,2053.6 709.3,2052.1 C706.3,2050.7 703.3,2049 700.2,2047.1 C697.2,2045.3 694.1,2043.3 691.1,2041.1 C688.1,2038.9 685.1,2036.5 682.2,2033.9 C679.2,2031.4 676.3,2028.7 673.4,2025.8 C670.6,2023 667.7,2020 665,2016.9 C662.3,2013.8 659.6,2010.5 657,2007.2 C654.4,2003.8 651.9,2000.3 649.6,1996.8 C647.2,1993.3 644.9,1989.6 642.7,1985.9 C640.5,1982.2 638.4,1978.4 636.5,1974.6 C634.6,1970.8 632.7,1966.9 631.1,1963 C629.4,1959.1 627.8,1955.1 626.4,1951.2 C625,1947.3 623.8,1943.4 622.7,1939.5 C621.5,1935.5 620.6,1931.6 619.8,1927.8 C619,1923.9 618.3,1920.1 617.9,1916.4 C617.4,1912.6 617,1908.9 616.9,1905.3 C616.7,1901.7 616.7,1898.2 616.9,1894.8 C617,1891.4 617.4,1888.1 617.9,1884.9 C618.3,1881.7 619,1878.6 619.8,1875.7 C620.6,1872.8 621.5,1870 622.7,1867.3 C623.8,1864.7 625,1862.2 626.4,1859.9 C627.8,1857.6 629.4,1855.5 631.1,1853.5 C632.7,1851.6 634.6,1849.8 636.5,1848.2 C638.4,1846.6 640.5,1845.2 642.7,1844 C644.9,1842.8 647.2,1841.9 649.6,1841.1 C651.9,1840.3 654.4,1839.7 657,1839.3 C659.6,1838.9 662.3,1838.8 665,1838.8 C667.7,1838.9 670.6,1839.1 673.4,1839.6 C676.3,1840 679.2,1840.7 682.2,1841.6 C685.1,1842.5 688.1,1843.5 691.1,1844.8 C694.1,1846.1 697.2,1847.6 700.2,1849.2 C703.3,1850.9 706.3,1852.7 709.3,1854.8 C712.4,1856.8 715.4,1859 718.4,1861.4 C721.4,1863.8 724.3,1866.3 727.3,1869 C730.2,1871.7 733,1874.6 735.8,1877.5 C738.6,1880.5 741.4,1883.6 744,1886.9 C746.7,1890.1 749.3,1893.5 751.8,1896.9 C754.3,1900.4 756.7,1904 759,1907.6 C761.2,1911.2 763.4,1915 765.5,1918.7 C767.6,1922.5 769.5,1926.3 771.3,1930.2 C773.1,1934.1 774.8,1938 776.4,1941.9 C777.9,1945.8 779.3,1949.7 780.6,1953.7 C781.8,1957.6 782.9,1961.5 783.9,1965.4 C784.9,1969.3 785.7,1973.2 786.3,1977 C786.9,1980.8 787.4,1984.5 787.8,1988.2 C788.1,1991.9 788.2,1995.5 788.2,1999 Z"/>
<path class="wf" d="M758.4,2015.5 C758.4,2019 758.2,2022.5 757.9,2025.8 C757.5,2029.1 757,2032.4 756.4,2035.4 C755.7,2038.5 754.9,2041.4 753.9,2044.2 C753,2047 751.8,2049.7 750.5,2052.1 C749.2,2054.6 747.8,2056.9 746.2,2059 C744.6,2061.1 742.9,2063.1 741.1,2064.8 C739.2,2066.6 737.2,2068.1 735.1,2069.5 C733,2070.8 730.8,2072 728.4,2072.9 C726.1,2073.9 723.7,2074.6 721.1,2075.1 C718.6,2075.6 716,2075.9 713.3,2076 C710.6,2076.1 707.8,2076 704.9,2075.7 C702.1,2075.3 699.2,2074.8 696.2,2074 C693.3,2073.3 690.2,2072.3 687.2,2071.1 C684.2,2070 681.1,2068.6 678.1,2067 C675,2065.4 672,2063.7 668.9,2061.7 C665.9,2059.7 662.8,2057.6 659.8,2055.3 C656.8,2053 653.7,2050.5 650.8,2047.8 C647.8,2045.2 644.9,2042.4 642.1,2039.4 C639.2,2036.5 636.4,2033.3 633.7,2030.1 C631,2026.9 628.4,2023.6 625.9,2020.1 C623.3,2016.7 620.9,2013.1 618.6,2009.5 C616.2,2005.8 614,2002.1 611.9,1998.3 C609.8,1994.5 607.8,1990.7 605.9,1986.8 C604.1,1982.9 602.4,1979 600.8,1975 C599.2,1971.1 597.8,1967.1 596.5,1963.2 C595.2,1959.2 594,1955.3 593.1,1951.4 C592.1,1947.4 591.3,1943.5 590.6,1939.7 C590,1935.9 589.5,1932.1 589.1,1928.4 C588.8,1924.7 588.6,1921 588.6,1917.5 C588.6,1914 588.8,1910.5 589.1,1907.2 C589.5,1903.9 590,1900.6 590.6,1897.6 C591.3,1894.5 592.1,1891.6 593.1,1888.8 C594,1886 595.2,1883.3 596.5,1880.9 C597.8,1878.4 599.2,1876.1 600.8,1874 C602.4,1871.9 604.1,1869.9 605.9,1868.2 C607.8,1866.4 609.8,1864.9 611.9,1863.5 C614,1862.2 616.2,1861 618.6,1860.1 C620.9,1859.1 623.3,1858.4 625.9,1857.9 C628.4,1857.4 631,1857.1 633.7,1857 C636.4,1856.9 639.2,1857 642.1,1857.3 C644.9,1857.7 647.8,1858.2 650.8,1859 C653.7,1859.7 656.8,1860.7 659.8,1861.9 C662.8,1863 665.9,1864.4 668.9,1866 C672,1867.6 675,1869.3 678.1,1871.3 C681.1,1873.3 684.2,1875.4 687.2,1877.7 C690.2,1880 693.3,1882.5 696.2,1885.2 C699.2,1887.8 702.1,1890.6 704.9,1893.6 C707.8,1896.5 710.6,1899.7 713.3,1902.9 C716,1906.1 718.6,1909.4 721.1,1912.9 C723.7,1916.3 726.1,1919.9 728.4,1923.5 C730.8,1927.2 733,1930.9 735.1,1934.7 C737.2,1938.5 739.2,1942.3 741.1,1946.2 C742.9,1950.1 744.6,1954 746.2,1958 C747.8,1961.9 749.2,1965.9 750.5,1969.8 C751.8,1973.8 753,1977.7 753.9,1981.6 C754.9,1985.6 755.7,1989.5 756.4,1993.3 C757,1997.1 757.5,2000.9 757.9,2004.6 C758.2,2008.3 758.4,2012 758.4,2015.5 Z"/>
<path class="k" d="M593,1880.8 L613.5,1862.6 L641.9,1844.5 L674.5,1825.4"/>
<path class="k" d="M709.4,2082.4 L733.5,2070.4 L763.1,2054.5 L797.5,2038.6"/>
<path class="t" d="M674.5,1825.4 L698.3,1815.1"/>
<path class="t" d="M797.5,2038.6 L817.7,2021.9"/>
<path class="t" d="M698.3,1815.1 C699.4,1814.6 702.7,1812.8 705.1,1812 C707.5,1811.1 710,1810.5 712.5,1810.1 C715.1,1809.7 717.8,1809.5 720.5,1809.5 C723.2,1809.5 726,1809.7 728.9,1810.2 C731.7,1810.6 734.7,1811.3 737.6,1812.1 C740.6,1813 743.6,1814 746.6,1815.3 C749.6,1816.6 752.7,1818.1 755.7,1819.7 C758.8,1821.4 761.8,1823.2 764.9,1825.3 C767.9,1827.3 770.9,1829.5 773.9,1831.9 C776.9,1834.3 779.9,1836.9 782.8,1839.6 C785.7,1842.3 788.6,1845.2 791.4,1848.2 C794.2,1851.2 796.9,1854.4 799.6,1857.6 C802.2,1860.9 804.8,1864.3 807.3,1867.8 C809.7,1871.2 812.1,1874.8 814.4,1878.5 C816.7,1882.1 818.8,1885.9 820.9,1889.7 C822.9,1893.5 824.8,1897.3 826.6,1901.2 C828.4,1905.1 830,1909 831.5,1913 C833,1916.9 834.4,1920.8 835.6,1924.8 C836.8,1928.7 837.8,1932.6 838.7,1936.5 C839.6,1940.4 840.4,1944.2 840.9,1948 C841.5,1951.8 841.9,1955.5 842.2,1959.2 C842.4,1962.8 842.5,1966.4 842.4,1969.9 C842.3,1973.3 842.1,1976.7 841.7,1980 C841.3,1983.2 840.7,1986.4 839.9,1989.3 C839.2,1992.3 838.3,1995.2 837.3,1997.9 C836.2,2000.6 835,2003.1 833.6,2005.5 C832.3,2007.9 830.8,2010.1 829.1,2012.1 C827.5,2014.1 825.7,2015.9 823.8,2017.6 C821.9,2019.2 818.7,2021.2 817.7,2021.9"/>
<path class="k" d="M674.5,1825.4 C675.6,1824.9 678.9,1823.1 681.2,1822.3 C683.6,1821.4 686.1,1820.8 688.6,1820.3 C691.1,1819.9 693.8,1819.7 696.5,1819.6 C699.2,1819.6 702,1819.8 704.8,1820.2 C707.6,1820.5 710.5,1821.1 713.5,1821.9 C716.4,1822.7 719.4,1823.7 722.4,1824.9 C725.4,1826.1 728.4,1827.4 731.4,1829 C734.5,1830.6 737.5,1832.3 740.6,1834.3 C743.6,1836.2 746.6,1838.3 749.6,1840.6 C752.6,1842.9 755.6,1845.3 758.5,1847.9 C761.5,1850.5 764.4,1853.3 767.2,1856.2 C770,1859.1 772.8,1862.1 775.5,1865.3 C778.2,1868.4 780.9,1871.7 783.4,1875.1 C785.9,1878.5 788.4,1882 790.8,1885.5 C793.1,1889.1 795.4,1892.8 797.5,1896.5 C799.7,1900.2 801.7,1904 803.6,1907.8 C805.5,1911.6 807.3,1915.5 809,1919.4 C810.6,1923.3 812.2,1927.2 813.5,1931.1 C814.9,1935.1 816.2,1939 817.3,1942.9 C818.3,1946.8 819.3,1950.7 820.1,1954.5 C820.9,1958.4 821.5,1962.2 822,1965.9 C822.4,1969.6 822.8,1973.3 822.9,1976.9 C823.1,1980.5 823.1,1984 822.9,1987.4 C822.8,1990.8 822.4,1994.2 822,1997.4 C821.5,2000.5 820.9,2003.6 820.1,2006.5 C819.3,2009.5 818.3,2012.3 817.3,2014.9 C816.2,2017.6 814.9,2020.1 813.5,2022.4 C812.2,2024.7 810.6,2026.9 809,2028.9 C807.3,2030.9 805.5,2032.7 803.6,2034.3 C801.7,2035.9 798.6,2037.9 797.5,2038.6"/>
<path class="k" d="M641.9,1844.5 C643,1844 646.4,1842.2 648.8,1841.3 C651.2,1840.5 653.7,1839.8 656.3,1839.4 C658.9,1839 661.6,1838.8 664.4,1838.8 C667.2,1838.8 670,1839.1 672.9,1839.5 C675.8,1839.9 678.8,1840.6 681.8,1841.5 C684.8,1842.4 687.9,1843.4 690.9,1844.7 C694,1846 697.1,1847.5 700.2,1849.2 C703.3,1850.9 706.4,1852.8 709.5,1854.8 C712.5,1856.9 715.6,1859.2 718.7,1861.6 C721.7,1864 724.7,1866.6 727.7,1869.4 C730.6,1872.1 733.5,1875.1 736.4,1878.1 C739.2,1881.2 742,1884.4 744.7,1887.7 C747.4,1891 750,1894.4 752.5,1898 C755,1901.5 757.5,1905.2 759.8,1908.9 C762.1,1912.6 764.3,1916.4 766.3,1920.2 C768.4,1924.1 770.3,1928 772.1,1931.9 C773.9,1935.9 775.6,1939.9 777.1,1943.9 C778.7,1947.8 780,1951.9 781.3,1955.9 C782.5,1959.8 783.6,1963.8 784.5,1967.8 C785.4,1971.7 786.1,1975.6 786.7,1979.5 C787.3,1983.3 787.7,1987.1 788,1990.8 C788.2,1994.5 788.3,1998.1 788.2,2001.7 C788.1,2005.2 787.9,2008.6 787.5,2011.9 C787,2015.2 786.4,2018.4 785.7,2021.4 C785,2024.5 784,2027.4 783,2030.1 C781.9,2032.8 780.7,2035.4 779.3,2037.8 C777.9,2040.2 776.4,2042.5 774.7,2044.5 C773.1,2046.6 771.3,2048.4 769.3,2050.1 C767.4,2051.8 764.2,2053.8 763.1,2054.5"/>
<path class="k" d="M613.5,1862.6 C614.6,1862 617.9,1860.3 620.3,1859.4 C622.7,1858.6 625.2,1858 627.8,1857.5 C630.4,1857.1 633.1,1856.9 635.8,1856.9 C638.5,1856.9 641.4,1857.2 644.2,1857.6 C647.1,1858.1 650,1858.7 653,1859.6 C656,1860.4 659,1861.5 662,1862.8 C665.1,1864.1 668.1,1865.5 671.2,1867.2 C674.3,1868.9 677.3,1870.8 680.4,1872.8 C683.4,1874.8 686.5,1877.1 689.5,1879.5 C692.5,1881.9 695.5,1884.5 698.4,1887.2 C701.3,1889.9 704.2,1892.8 707,1895.8 C709.8,1898.9 712.6,1902 715.3,1905.3 C717.9,1908.6 720.5,1912 723,1915.5 C725.5,1919 727.9,1922.6 730.2,1926.3 C732.5,1929.9 734.6,1933.7 736.7,1937.5 C738.7,1941.3 740.6,1945.2 742.4,1949.1 C744.2,1953 745.9,1957 747.4,1960.9 C748.9,1964.9 750.3,1968.8 751.5,1972.8 C752.7,1976.7 753.7,1980.7 754.6,1984.6 C755.5,1988.5 756.3,1992.4 756.8,1996.2 C757.4,2000 757.8,2003.7 758.1,2007.4 C758.3,2011 758.4,2014.7 758.3,2018.1 C758.3,2021.6 758,2025 757.6,2028.3 C757.2,2031.5 756.6,2034.7 755.9,2037.7 C755.1,2040.7 754.2,2043.6 753.2,2046.3 C752.1,2049 750.9,2051.6 749.5,2053.9 C748.2,2056.3 746.7,2058.5 745,2060.6 C743.4,2062.6 741.6,2064.4 739.6,2066.1 C737.7,2067.7 734.5,2069.7 733.5,2070.4"/>
<path class="t" d="M647.2,1852.1 C648.7,1852.4 652.9,1852.9 655.9,1853.7 C658.8,1854.4 661.8,1855.3 664.8,1856.5 C667.8,1857.6 670.8,1858.9 673.8,1860.5 C676.9,1862 679.9,1863.7 683,1865.6 C686,1867.5 689.1,1869.6 692.1,1871.8 C695.1,1874.1 698.1,1876.5 701,1879.1 C704,1881.7 706.9,1884.4 709.8,1887.3 C712.6,1890.2 715.4,1893.2 718.1,1896.4 C720.9,1899.5 723.5,1902.8 726.1,1906.2 C728.6,1909.6 731.1,1913.1 733.5,1916.6 C735.9,1920.2 738.1,1923.9 740.3,1927.6 C742.5,1931.3 744.5,1935.1 746.4,1939 C748.3,1942.8 750.1,1946.7 751.8,1950.6 C753.5,1954.5 755,1958.5 756.4,1962.4 C757.7,1966.3 759,1970.3 760.1,1974.2 C761.1,1978.1 762.1,1982 762.8,1985.8 C763.6,1989.7 764.2,1993.5 764.7,1997.2 C765.1,2001 765.4,2004.7 765.6,2008.3 C765.7,2011.8 765.7,2015.4 765.5,2018.8 C765.3,2022.2 765,2025.5 764.5,2028.6 C764,2031.8 763.3,2034.9 762.5,2037.8 C761.6,2040.7 760.7,2043.5 759.5,2046.1 C758.4,2048.7 757.1,2051.2 755.7,2053.5 C754.3,2055.7 752.7,2057.9 751,2059.8 C749.3,2061.7 746.4,2064.2 745.5,2065.1"/>
<path class="k" d="M733.5,2029.1 C733.5,2032.6 733.3,2036 733,2039.3 C732.6,2042.5 732.1,2045.7 731.5,2048.7 C730.8,2051.7 730,2054.6 729,2057.4 C728,2060.1 726.9,2062.7 725.6,2065.1 C724.3,2067.5 722.9,2069.8 721.3,2071.8 C719.7,2073.9 718,2075.8 716.1,2077.4 C714.3,2079.1 712.3,2080.6 710.2,2081.9 C708.1,2083.2 705.8,2084.3 703.5,2085.1 C701.2,2086 698.7,2086.7 696.2,2087.1 C693.7,2087.6 691,2087.8 688.3,2087.8 C685.7,2087.8 682.9,2087.6 680,2087.2 C677.2,2086.8 674.3,2086.2 671.4,2085.4 C668.5,2084.5 665.5,2083.5 662.5,2082.2 C659.5,2081 656.5,2079.5 653.5,2077.9 C650.5,2076.2 647.4,2074.4 644.4,2072.4 C641.4,2070.3 638.4,2068.1 635.4,2065.7 C632.5,2063.4 629.5,2060.8 626.6,2058.1 C623.8,2055.4 620.9,2052.5 618.2,2049.5 C615.4,2046.5 612.7,2043.4 610.1,2040.1 C607.5,2036.9 604.9,2033.5 602.5,2030 C600,2026.5 597.7,2023 595.5,2019.3 C593.3,2015.7 591.1,2011.9 589.2,2008.2 C587.2,2004.4 585.3,2000.6 583.6,1996.7 C581.9,1992.8 580.3,1988.9 578.8,1985 C577.4,1981.1 576.1,1977.2 575,1973.3 C573.8,1969.5 572.9,1965.6 572,1961.7 C571.2,1957.9 570.5,1954.1 570,1950.4 C569.6,1946.7 569.2,1943 569.1,1939.4 C568.9,1935.8 568.9,1932.3 569.1,1928.9 C569.2,1925.6 569.6,1922.3 570,1919.1 C570.5,1916 571.2,1912.9 572,1910 C572.9,1907.2 573.8,1904.4 575,1901.8 C576.1,1899.3 577.4,1896.8 578.8,1894.6 C580.3,1892.4 581.9,1890.3 583.6,1888.4 C585.3,1886.6 587.2,1884.9 589.2,1883.4 C591.1,1881.9 593.3,1880.6 595.5,1879.5 C597.7,1878.5 600,1877.6 602.5,1876.9 C604.9,1876.3 607.5,1875.8 610.1,1875.6 C612.7,1875.3 615.4,1875.3 618.2,1875.5 C620.9,1875.7 623.8,1876.1 626.6,1876.8 C629.5,1877.4 632.5,1878.2 635.4,1879.3 C638.4,1880.3 641.4,1881.6 644.4,1883 C647.4,1884.5 650.5,1886.1 653.5,1887.9 C656.5,1889.8 659.5,1891.8 662.5,1894 C665.5,1896.2 668.5,1898.6 671.4,1901.2 C674.3,1903.7 677.2,1906.4 680,1909.3 C682.9,1912.1 685.7,1915.2 688.3,1918.3 C691,1921.4 693.7,1924.7 696.2,1928 C698.7,1931.4 701.2,1934.9 703.5,1938.5 C705.8,1942 708.1,1945.7 710.2,1949.4 C712.3,1953.1 714.3,1956.9 716.1,1960.7 C718,1964.6 719.7,1968.4 721.3,1972.3 C722.9,1976.2 724.3,1980.1 725.6,1984 C726.9,1987.9 728,1991.8 729,1995.7 C730,1999.5 730.8,2003.4 731.5,2007.2 C732.1,2011 732.6,2014.7 733,2018.4 C733.3,2022 733.5,2025.6 733.5,2029.1 Z" style="fill:#fff"/>
<path class="t" d="M600.7,1878.2 C602,1877.9 605.8,1876.9 608.4,1876.5 C611.1,1876.2 613.9,1876.1 616.7,1876.3 C619.5,1876.4 622.5,1876.8 625.4,1877.4 C628.4,1878 631.4,1878.9 634.5,1880 C637.5,1881.1 640.7,1882.4 643.8,1883.9 C646.9,1885.5 650,1887.2 653.1,1889.2 C656.2,1891.1 659.3,1893.3 662.4,1895.7 C665.5,1898 668.6,1900.6 671.5,1903.3 C674.5,1906.1 677.5,1909 680.4,1912 C683.2,1915.1 686,1918.3 688.8,1921.7 C691.5,1925 694.1,1928.5 696.6,1932.1 C699.1,1935.7 701.5,1939.4 703.8,1943.2 C706,1946.9 708.2,1950.8 710.2,1954.7 C712.2,1958.6 714.1,1962.6 715.8,1966.6 C717.5,1970.6 719.1,1974.7 720.4,1978.7 C721.8,1982.7 723.1,1986.8 724.1,1990.7 C725.2,1994.7 726,1998.7 726.7,2002.6 C727.4,2006.5 728,2010.4 728.3,2014.2 C728.6,2017.9 728.8,2021.7 728.7,2025.2 C728.7,2028.8 728.5,2032.3 728.1,2035.6 C727.7,2039 727.1,2042.2 726.3,2045.2 C725.6,2048.3 724.6,2051.2 723.5,2053.9 C722.4,2056.6 721.1,2059.2 719.7,2061.5 C718.2,2063.9 716.6,2066 714.8,2068 C713.1,2069.9 711.1,2071.7 709.1,2073.2 C707,2074.7 703.6,2076.5 702.5,2077.1"/>
<path class="t" d="M603,1873.3 C604.2,1873 607.8,1871.7 610.3,1871.2 C612.9,1870.7 615.6,1870.5 618.3,1870.5 C621,1870.4 623.8,1870.6 626.7,1871.1 C629.6,1871.5 632.5,1872.1 635.5,1873 C638.5,1873.9 641.5,1875 644.6,1876.3 C647.6,1877.6 650.7,1879.1 653.7,1880.8 C656.8,1882.5 659.9,1884.4 662.9,1886.5 C666,1888.6 669,1891 672,1893.4 C675,1895.9 678,1898.6 680.9,1901.4 C683.8,1904.2 686.7,1907.2 689.5,1910.3 C692.2,1913.4 694.9,1916.7 697.6,1920 C700.2,1923.4 702.7,1926.9 705.1,1930.5 C707.5,1934 709.8,1937.7 712,1941.5 C714.2,1945.2 716.2,1949.1 718.2,1953 C720.1,1956.8 721.9,1960.8 723.5,1964.7 C725.1,1968.6 726.6,1972.6 728,1976.6 C729.3,1980.5 730.5,1984.5 731.5,1988.4 C732.5,1992.4 733.3,1996.3 734,2000.1 C734.7,2003.9 735.2,2007.8 735.5,2011.5 C735.8,2015.2 736,2018.8 736,2022.4 C736,2025.9 735.8,2029.3 735.4,2032.6 C735,2035.9 734.5,2039.1 733.8,2042.2 C733.1,2045.2 732.2,2048.1 731.1,2050.8 C730.1,2053.5 728.9,2056.1 727.5,2058.5 C726.1,2060.9 724.6,2063.1 722.9,2065.1 C721.3,2067.1 719.4,2068.9 717.5,2070.5 C715.5,2072.1 712.3,2074 711.2,2074.7"/>
<path class="t" d="M674.9,2059 C673.5,2058.9 669.4,2059.1 666.6,2058.7 C663.7,2058.3 660.8,2057.6 657.8,2056.6 C654.8,2055.6 651.7,2054.2 648.7,2052.6 C645.6,2051 642.5,2049.1 639.5,2046.9 C636.5,2044.7 633.4,2042.3 630.5,2039.6 C627.6,2036.9 624.7,2034 621.9,2030.9 C619.1,2027.8 616.5,2024.5 613.9,2021 C611.4,2017.6 609,2013.9 606.8,2010.2 C604.6,2006.5 602.6,2002.7 600.7,1998.8 C598.9,1994.9 597.2,1990.9 595.8,1987 C594.4,1983.1 593.1,1979.1 592.2,1975.2 C591.2,1971.3 590.4,1967.4 589.9,1963.6 C589.4,1959.9 589.2,1956.1 589.1,1952.6 C589.1,1949.1 589.4,1945.6 589.8,1942.4 C590.3,1939.2 591,1936.2 592,1933.4 C592.9,1930.6 594.1,1928 595.5,1925.7 C596.9,1923.3 598.6,1921.2 600.4,1919.5 C602.2,1917.7 604.3,1916.2 606.4,1915 C608.6,1913.8 612.3,1912.8 613.5,1912.3"/>
<path class="t" d="M673.4,2060.8 C672,2060.8 667.9,2061 665,2060.6 C662.2,2060.2 659.2,2059.4 656.2,2058.4 C653.1,2057.4 650.1,2056 647,2054.4 C643.9,2052.8 640.8,2050.8 637.7,2048.7 C634.7,2046.5 631.6,2044 628.7,2041.3 C625.7,2038.6 622.8,2035.7 620,2032.5 C617.2,2029.4 614.5,2026.1 612,2022.6 C609.5,2019.1 607,2015.5 604.8,2011.7 C602.6,2008 600.5,2004.1 598.7,2000.2 C596.8,1996.3 595.1,1992.3 593.7,1988.3 C592.3,1984.4 591,1980.3 590,1976.4 C589.1,1972.5 588.3,1968.5 587.8,1964.7 C587.3,1961 587,1957.2 587,1953.7 C587,1950.1 587.2,1946.6 587.7,1943.4 C588.2,1940.2 588.9,1937.1 589.9,1934.3 C590.8,1931.5 592,1928.8 593.5,1926.5 C594.9,1924.2 596.5,1922.1 598.4,1920.3 C600.2,1918.5 602.2,1917 604.4,1915.7 C606.6,1914.5 610.4,1913.5 611.6,1913.1"/>
<path class="k" d="M705,2015.5 C705,2019 704.7,2022.4 704.3,2025.5 C703.8,2028.7 703,2031.7 702.1,2034.4 C701.1,2037.2 699.9,2039.7 698.5,2042 C697.1,2044.3 695.5,2046.3 693.7,2048 C691.9,2049.8 689.9,2051.2 687.7,2052.4 C685.5,2053.5 683.2,2054.4 680.7,2055 C678.2,2055.5 675.6,2055.7 672.8,2055.7 C670.1,2055.6 667.3,2055.2 664.4,2054.5 C661.5,2053.8 658.5,2052.7 655.5,2051.4 C652.5,2050.1 649.4,2048.5 646.4,2046.6 C643.4,2044.8 640.4,2042.6 637.4,2040.2 C634.5,2037.8 631.6,2035.1 628.7,2032.3 C625.9,2029.4 623.2,2026.3 620.6,2023 C617.9,2019.8 615.4,2016.3 613.1,2012.8 C610.8,2009.3 608.6,2005.5 606.6,2001.8 C604.6,1998 602.7,1994.1 601.1,1990.3 C599.5,1986.4 598.1,1982.5 596.9,1978.6 C595.7,1974.7 594.8,1970.8 594,1967 C593.3,1963.2 592.8,1959.4 592.6,1955.8 C592.3,1952.2 592.3,1948.7 592.6,1945.4 C592.8,1942.1 593.3,1938.8 594,1935.9 C594.8,1932.9 595.7,1930.1 596.9,1927.6 C598.1,1925.1 599.5,1922.8 601.1,1920.8 C602.7,1918.8 604.6,1917 606.6,1915.6 C608.6,1914.1 610.8,1912.9 613.1,1912.1 C615.4,1911.2 617.9,1910.7 620.6,1910.5 C623.2,1910.2 625.9,1910.3 628.7,1910.7 C631.6,1911.1 634.5,1911.8 637.4,1912.8 C640.4,1913.8 643.4,1915.1 646.4,1916.7 C649.4,1918.3 652.5,1920.2 655.5,1922.4 C658.5,1924.5 661.5,1927 664.4,1929.6 C667.3,1932.2 670.1,1935.1 672.8,1938.2 C675.6,1941.3 678.2,1944.6 680.7,1948 C683.2,1951.4 685.5,1955 687.7,1958.6 C689.9,1962.3 691.9,1966.1 693.7,1969.9 C695.5,1973.8 697.1,1977.7 698.5,1981.6 C699.9,1985.5 701.1,1989.4 702.1,1993.2 C703,1997.1 703.8,2000.9 704.3,2004.7 C704.7,2008.4 705,2012 705,2015.5 Z"/>
<path class="or" d="M1308.3,1629.9 C1308.3,1631.6 1308.2,1633.2 1307.9,1634.7 C1307.7,1636.2 1307.3,1637.7 1306.8,1638.9 C1306.3,1640.2 1305.7,1641.4 1305,1642.5 C1304.2,1643.5 1303.4,1644.4 1302.4,1645.1 C1301.5,1645.9 1300.5,1646.5 1299.3,1646.9 C1298.2,1647.4 1297,1647.7 1295.8,1647.8 C1294.5,1647.9 1293.2,1647.8 1291.8,1647.6 C1290.4,1647.4 1289,1647 1287.6,1646.5 C1286.1,1645.9 1284.7,1645.2 1283.2,1644.4 C1281.7,1643.6 1280.3,1642.6 1278.8,1641.4 C1277.4,1640.3 1276,1639.1 1274.6,1637.7 C1273.2,1636.3 1271.9,1634.8 1270.6,1633.3 C1269.4,1631.7 1268.2,1630 1267.1,1628.3 C1265.9,1626.6 1264.9,1624.8 1264,1622.9 C1263,1621.1 1262.2,1619.2 1261.5,1617.3 C1260.7,1615.5 1260.1,1613.6 1259.6,1611.7 C1259.1,1609.8 1258.7,1608 1258.5,1606.2 C1258.2,1604.4 1258.1,1602.6 1258.1,1600.9 C1258.1,1599.2 1258.2,1597.6 1258.5,1596.1 C1258.7,1594.6 1259.1,1593.1 1259.6,1591.9 C1260.1,1590.6 1260.7,1589.4 1261.5,1588.3 C1262.2,1587.3 1263,1586.4 1264,1585.7 C1264.9,1584.9 1265.9,1584.3 1267.1,1583.9 C1268.2,1583.4 1269.4,1583.1 1270.6,1583 C1271.9,1582.9 1273.2,1583 1274.6,1583.2 C1276,1583.4 1277.4,1583.8 1278.8,1584.3 C1280.3,1584.9 1281.7,1585.6 1283.2,1586.4 C1284.7,1587.2 1286.1,1588.2 1287.6,1589.4 C1289,1590.5 1290.4,1591.7 1291.8,1593.1 C1293.2,1594.5 1294.5,1596 1295.8,1597.5 C1297,1599.1 1298.2,1600.8 1299.3,1602.5 C1300.5,1604.2 1301.5,1606 1302.4,1607.9 C1303.4,1609.7 1304.2,1611.6 1305,1613.5 C1305.7,1615.3 1306.3,1617.2 1306.8,1619.1 C1307.3,1621 1307.7,1622.8 1307.9,1624.6 C1308.2,1626.4 1308.3,1628.2 1308.3,1629.9 Z"/>
<path class="orw" d="M1276,1582.2 C1276.9,1582.5 1279.6,1583.3 1281.4,1584.2 C1283.2,1585.1 1285,1586.3 1286.8,1587.6 C1288.6,1588.9 1290.4,1590.5 1292.1,1592.2 C1293.8,1593.9 1296.2,1596.9 1297.1,1597.8"/>
<path class="orw" d="M1293,1646.5 C1292.2,1646.3 1289.8,1646 1288.2,1645.5 C1286.6,1644.9 1284.9,1644.2 1283.2,1643.2 C1281.5,1642.2 1279.8,1641 1278.2,1639.7 C1276.6,1638.4 1274.2,1635.9 1273.4,1635.1"/>
<path class="k" d="M304.5,2046 C301.7,2046.1 272.7,2045.3 265,2045.2 C257.3,2045.1 232.7,2044.6 227.3,2045.2 C222,2045.8 214,2049.9 211.5,2051.5 C209,2053.1 203.5,2058.6 202.1,2061 C200.7,2063.4 197.9,2071.7 197.3,2075.2 C196.8,2078.7 196.3,2091.4 196.6,2095.7 C196.9,2099.9 199.2,2113.4 200.5,2117.7 C201.8,2121.9 207.5,2134.1 210,2138.2 C212.5,2142.3 221.6,2153.8 225.7,2158.7 C229.8,2163.6 245.7,2181.3 250.9,2187.1 C256.1,2192.9 272.5,2211.6 277.7,2217.1 C282.9,2222.6 298.6,2238.1 303,2242.3 C307.4,2246.6 317.6,2256.6 321.9,2259.6 C326.1,2262.6 340.8,2270.3 345.5,2272.2 C350.2,2274.1 365.4,2278.1 369.2,2278.6 C373,2279.1 380.2,2277.9 383.4,2277 C386.5,2276.1 397.9,2270.7 400.7,2269.1 C403.5,2267.5 409.4,2262.8 411,2261 C412.6,2259.2 415.8,2252.6 417,2251 C418.2,2249.4 421.8,2245.9 423,2245.5 C424.2,2245.1 428,2246.4 429,2247 C430,2247.6 430.1,2249 433.4,2251.1 C436.6,2253.2 453.1,2263.8 461.5,2268 C469.9,2272.2 506.5,2289.5 517.8,2293.3 C529.1,2297.1 564.2,2304.7 574.1,2306 C584,2307.3 609.9,2307.1 616.4,2306 C622.9,2304.9 635.8,2298.1 638.9,2295.3 C642,2292.5 646.5,2282.7 647.3,2277.8 C648.1,2272.9 647.3,2252.2 647.3,2246 C647.3,2239.8 647.9,2220.6 647.3,2215.9 C646.7,2211.2 644.5,2203.2 641.7,2199 C638.9,2194.8 624.6,2178.6 619.2,2173.7 C613.9,2168.8 593.6,2153.4 588.2,2149.7 C582.9,2146 570.9,2139.9 565.7,2137.1 C560.5,2134.3 539.8,2124.7 536.1,2121.6 C532.4,2118.5 530.9,2111 529.1,2106.1 C527.3,2101.2 521.2,2079.1 517.8,2072.3 C514.4,2065.5 500.9,2045.2 495.3,2038.5 C489.7,2031.8 468.3,2010 461.5,2004.8 C454.7,1999.6 433.3,1989 427.7,1986.5 C422.1,1984 409.7,1979.9 405.2,1979.4 C400.7,1978.9 386.6,1980.3 382.7,1981.7 C378.8,1983.1 368.3,1991.3 365.8,1993.5 C363.3,1995.7 364.7,1998.2 357.4,2003.3 C350.1,2008.4 297.9,2039.9 292.6,2044.2 C287.3,2048.5 307.3,2045.9 304.5,2046 Z" style="fill:#fff"/>
<path class="t" d="M228,2048.6 C233.4,2048.7 248.7,2049 260.4,2049.2 C272.1,2049.4 287.9,2048.8 298.2,2050 C308.4,2051.2 314,2053.4 321.9,2056.3 C329.8,2059.2 337.6,2062.1 345.5,2067.3 C353.4,2072.6 362.6,2081 369.2,2087.8 C375.8,2094.6 379.8,2099.9 385,2108.3 C390.2,2116.7 396.2,2128.8 400.7,2138.2 C405.1,2147.6 408.8,2158.2 411.7,2165 C414.6,2171.8 415.2,2175.5 418.1,2179.2 C421,2182.9 426.6,2185.2 429.1,2187.1 C431.7,2189 432.7,2190 433.4,2190.6"/>
<path class="k" d="M420.5,2164 C421.1,2166 422.1,2172.4 424,2176 C425.9,2179.6 426,2181.7 432,2185.5 C438,2189.3 449,2193.9 460,2199 C471,2204.1 491.2,2212.7 498,2216 C504.8,2219.3 500.5,2218.2 501,2218.7"/>
<path class="t" d="M408.6,2262.8 L416.5,2248.6"/>
<path class="t" d="M433.4,2190.6 C442.8,2194.6 470.9,2207.5 489.7,2214.5 C508.5,2221.5 527.2,2228 546,2232.8 C564.8,2237.6 588.3,2242.8 602.4,2243.5 C616.5,2244.2 624.9,2241.1 630.5,2237 C636.1,2232.9 636.1,2225 636.1,2218.7 C636.1,2212.4 636.1,2207 630.5,2199 C624.9,2191 612.7,2179.1 602.4,2170.9 C592.1,2162.7 579.5,2156.3 568.5,2149.7 C557.5,2143.1 541.5,2134.4 536.1,2131.4"/>
<path class="k" d="M529.1,2184.9 C530,2185.4 529.5,2184.9 534.7,2187.7 C539.9,2190.5 551.2,2196.4 560.1,2201.8 C569,2207.2 579.8,2214 588.2,2220.1 C596.6,2226.2 607,2235.3 610.7,2238.4"/>
<path class="k" d="M529,2183 C529.3,2184.5 531.5,2188.7 531,2192 C530.5,2195.3 528.8,2199.7 526,2203 C523.2,2206.3 518.2,2209.4 514,2212 C509.8,2214.6 503.2,2217.6 501,2218.7"/>
<path class="k" d="M501,2218.7 C507.5,2220.8 527.7,2227.8 540,2231 C552.3,2234.2 563.2,2236.8 575,2238 C586.8,2239.2 604.8,2238.3 610.7,2238.4"/>
<path class="k" d="M612,2238.4 C614.7,2237.7 624.3,2236.7 628,2234 C631.7,2231.3 633,2226.3 634,2222 C635,2217.7 634,2210.3 634,2208"/>
<path class="t" d="M360.2,2001.9 C365.4,2001 379,1995.3 391.2,1996.3 C403.4,1997.2 419.3,2000.6 433.4,2007.6 C447.5,2014.6 463.9,2026.3 475.6,2038.5 C487.3,2050.7 497.2,2066.7 503.8,2080.8 C510.4,2094.9 513.1,2108.9 515,2123 C516.9,2137.1 516.4,2152.5 515,2165.2 C513.6,2177.9 509.9,2191 506.6,2199 C503.3,2207 497.2,2210.8 495.3,2213.1"/>
<path class="t" d="M394,1982.2 C400.6,1983.8 419.8,1985.5 433.4,1992.1 C447,1998.7 462.9,2009.2 475.6,2021.6 C488.3,2034 500.9,2051.2 509.4,2066.7 C517.8,2082.2 522.5,2104.7 526.3,2114.5 C530,2124.3 531,2123.9 531.9,2125.8"/>
<path class="t" d="M512.2,2141.3 L531.9,2150 L531.9,2162.4 L514,2155"/>
<path class="dd" d="M655,378.5 L725,339"/>
<path class="dd" d="M741.8,328.9 L763.2,316.5"/>
<path class="dd" d="M800.4,295 L868.5,255.4 L1047,358.2"/>
<path class="dd" d="M1171.4,313.6 L1221,285.5"/>
<path class="dd" d="M1100.5,355.6 L1110.4,348.8"/>
<path class="dd" d="M700.5,1113 L700.7,1426"/>
<path class="dd" d="M700.7,1500 L700.5,1672"/>
<path class="dd" d="M1132.8,982 L1132.8,1062.5 L930.7,1178.1 L930.2,1293"/>
<path class="dd" d="M929.5,1320 L929,1539"/>
<path class="dd" d="M1208,1660 L1259.9,1630.3"/>
<path class="dd" d="M1274,1622.5 L1284.7,1616.8"/>
<path class="dd" d="M519.2,2061 L650.2,1985"/>
<text class="lb" x="666.7" y="206.4">8</text>
<text class="lb" x="457.5" y="327.4">6</text>
<text class="lb" x="1012.2" y="716.8">5</text>
<text class="lb" x="1195.8" y="774.1">7</text>
<text class="lb" x="586.8" y="927.5">7</text>
<text class="lb" x="541.5" y="1601.8">2</text>
<text class="lb" x="1190.3" y="1521.1">4</text>
<text class="lb" x="250.2" y="1956.7">3</text>
<path class="fillk" d="M1509.5,56.5 L1515,56.5 L1515,85 L1508.9,85 L1508.9,66 C1506.5,68.5 1504,69.5 1501.7,70.3 L1501.7,64.8 C1505,63.5 1508,60.5 1509.5,56.5 Z"/>
<text class="lb2" x="26.6" y="2450.4" textLength="182" lengthAdjust="spacingAndGlyphs">ETN84636A</text>
<path class="ld" d="M1526,100.7 L1568.8,170.5"/>
<path class="ld" d="M695.6,220.4 L731,270.4"/>
<path class="ld" d="M486.2,341.3 L522.2,393.1"/>
<path class="ld" d="M1009.9,735 L977.5,796.5"/>
<path class="ld" d="M1195.2,790.3 L1160.5,855.1"/>
<path class="ld" d="M620.4,939.1 L669,989.4"/>
<path class="ld" d="M572,1614 L624,1678.2"/>
<path class="ld" d="M1221.1,1532.4 L1265,1581.4"/>
<path class="ld" d="M280.8,1968.8 L326.4,2021.6"/>
<g fill="#e6e6e6"><path d="M1121,1175 L1144,1186 L1145,1210 L1121,1203 Z"/><path d="M1078,1185 L1092,1190 L1090,1198 L1078,1198 Z"/><path d="M1089,1196 L1093,1192 L1118,1193 L1119,1203 L1091,1200 Z"/><path d="M1058,1212 L1064,1205 L1108,1203 L1146,1212 L1174,1224 L1175,1233 L1165,1236 L1164,1245 L1121,1246 L1121,1255 L1099,1255 L1099,1244 L1062,1243 Z"/><path d="M1060,1283 L1150,1294 L1182,1281 L1178,1262 L1168,1258 L1150,1262 L1120,1258 L1095,1262 L1062,1266 Z"/></g>
<g fill="none" stroke="#fafafa" stroke-width="1.2"><path d="M1066,1207 L1070,1240 M1088,1206 L1094,1240 M1104,1205 L1098,1240 M1119,1203 L1117,1244 M1120,1215 L1172,1228 M1126,1180 L1126,1202 M1131,1181 L1131,1203 M1136,1183 L1136,1205 M1141,1185 L1141,1207 M1100,1250 L1164,1250 M1175,1264 L1158,1300 M1168,1262 L1150,1298"/></g>
<circle cx="981.5" cy="1247" r="39" fill="#fff"/>
<path d="M1012,1247.2 L1018.5,1248.5 L1018,1252.9 L1011.4,1252.9 L1010.5,1256.6 L1016.2,1259.8 L1014.4,1263.9 L1008.1,1261.9 L1006.1,1265.1 L1010.5,1269.9 L1007.6,1273.2 L1002.2,1269.4 L999.3,1271.8 L1002,1277.8 L998.2,1280 L994.3,1274.7 L990.8,1276.1 L991.5,1282.6 L987.2,1283.6 L985.1,1277.3 L981.3,1277.5 L980,1284 L975.6,1283.5 L975.6,1276.9 L971.9,1276 L968.7,1281.7 L964.6,1279.9 L966.6,1273.6 L963.4,1271.6 L958.6,1276 L955.3,1273.1 L959.1,1267.7 L956.7,1264.8 L950.7,1267.5 L948.5,1263.7 L953.8,1259.8 L952.4,1256.3 L945.9,1257 L944.9,1252.7 L951.2,1250.6 L951,1246.8 L944.5,1245.5 L945,1241.1 L951.6,1241.1 L952.5,1237.4 L946.8,1234.2 L948.6,1230.1 L954.9,1232.1 L956.9,1228.9 L952.5,1224.1 L955.4,1220.8 L960.8,1224.6 L963.7,1222.2 L961,1216.2 L964.8,1214 L968.7,1219.3 L972.2,1217.9 L971.5,1211.4 L975.8,1210.4 L977.9,1216.7 L981.7,1216.5 L983,1210 L987.4,1210.5 L987.4,1217.1 L991.1,1218 L994.3,1212.3 L998.4,1214.1 L996.4,1220.4 L999.6,1222.4 L1004.4,1218 L1007.7,1220.9 L1003.9,1226.3 L1006.3,1229.2 L1012.3,1226.5 L1014.5,1230.3 L1009.2,1234.2 L1010.6,1237.7 L1017.1,1237 L1018.1,1241.3 L1011.8,1243.4 Z M1004.5,1247 A23,23 0 1,0 958.5,1247 A23,23 0 1,0 1004.5,1247 Z" fill="#adadad" fill-rule="evenodd"/>
<path d="M958.5,1253 L1004.5,1253 A23,23 0 0,1 958.5,1253 Z" fill="#a2a2a2" transform="translate(0,0)"/>
<path d="M950.5,1252 L1012.5,1252 A31,31 0 0,1 950.5,1252 Z" fill="#a0a0a0"/>
<path d="M946,1256 C975,1248 1010,1244.5 1058,1244.5 L1058,1249.5 C1015,1250 985,1256 955,1268 L951,1272 Z" fill="#c4c4c4"/>
<path d="M949,1262 C980,1252 1012,1248 1056,1247.5 M950,1266 C980,1257 1005,1252 1040,1250.5 M952,1270 C975,1262 995,1258 1020,1256" fill="none" stroke="#f4f4f4" stroke-width="1"/>
<text x="1063.5" y="1254.6" textLength="32.5" lengthAdjust="spacingAndGlyphs" style="font-family:'Liberation Sans',sans-serif;font-size:14.5px;fill:#979797;stroke:#fff;stroke-width:2px;paint-order:stroke">ООО</text>
<text x="984.5" y="1285" textLength="178" lengthAdjust="spacingAndGlyphs" style="font-family:'Liberation Serif',serif;font-weight:bold;font-size:34.5px;fill:#8e8e8e;stroke:#fff;stroke-width:2.5px;paint-order:stroke">АГРОСНАБ</text>
</svg></body></html>
